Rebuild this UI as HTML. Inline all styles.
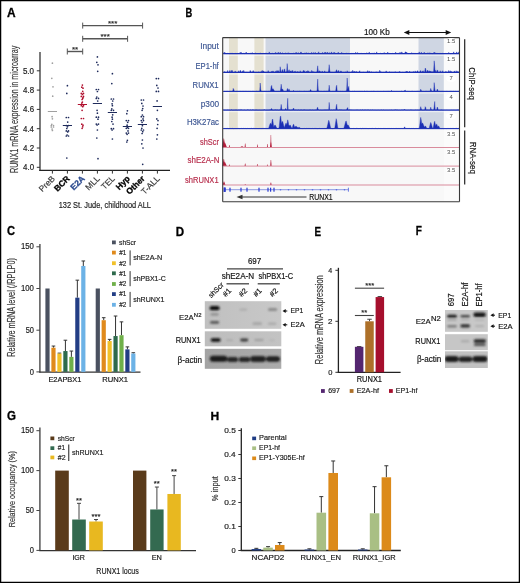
<!DOCTYPE html>
<html><head><meta charset="utf-8"><title>Figure</title>
<style>
html,body{margin:0;padding:0;background:#fff;}
#fig{position:relative;width:520px;height:583px;overflow:hidden;background:#fff;}
#fig svg{position:absolute;left:0;top:0;will-change:transform;}
text{font-family:"Liberation Sans", sans-serif;}
</style></head>
<body><div id="fig">
<svg width="520" height="583" viewBox="0 0 520 583">
<defs><filter id="blur1" x="-30%" y="-80%" width="160%" height="260%"><feGaussianBlur stdDeviation="0.9"/></filter></defs>
<rect x="0" y="0" width="520" height="583" fill="#fff"/>
<text x="6.95" y="16.83" font-size="12.45" fill="#000" text-anchor="start" stroke="#000" stroke-width="0.3" font-weight="bold" textLength="8.62" lengthAdjust="spacingAndGlyphs" >A</text>
<line x1="40.00" y1="52.00" x2="40.00" y2="170.90" stroke="#444" stroke-width="1.4"/>
<line x1="39.30" y1="170.30" x2="170.00" y2="170.30" stroke="#222" stroke-width="1.3"/>
<line x1="36.80" y1="167.30" x2="40.00" y2="167.30" stroke="#333" stroke-width="1"/>
<text x="23.07" y="170.24" font-size="8.56" fill="#1c1c1c" text-anchor="start" stroke="#1c1c1c" stroke-width="0.18" textLength="10.98" lengthAdjust="spacingAndGlyphs" >4.0</text>
<line x1="36.80" y1="148.00" x2="40.00" y2="148.00" stroke="#333" stroke-width="1"/>
<text x="23.07" y="150.99" font-size="8.56" fill="#1c1c1c" text-anchor="start" stroke="#1c1c1c" stroke-width="0.18" textLength="11.08" lengthAdjust="spacingAndGlyphs" >4.2</text>
<line x1="36.80" y1="128.70" x2="40.00" y2="128.70" stroke="#333" stroke-width="1"/>
<text x="23.07" y="131.64" font-size="8.56" fill="#1c1c1c" text-anchor="start" stroke="#1c1c1c" stroke-width="0.18" textLength="10.89" lengthAdjust="spacingAndGlyphs" >4.4</text>
<line x1="36.80" y1="109.40" x2="40.00" y2="109.40" stroke="#333" stroke-width="1"/>
<text x="23.07" y="112.34" font-size="8.56" fill="#1c1c1c" text-anchor="start" stroke="#1c1c1c" stroke-width="0.18" textLength="11.02" lengthAdjust="spacingAndGlyphs" >4.6</text>
<line x1="36.80" y1="90.10" x2="40.00" y2="90.10" stroke="#333" stroke-width="1"/>
<text x="23.07" y="93.04" font-size="8.56" fill="#1c1c1c" text-anchor="start" stroke="#1c1c1c" stroke-width="0.18" textLength="11.02" lengthAdjust="spacingAndGlyphs" >4.8</text>
<line x1="36.80" y1="70.80" x2="40.00" y2="70.80" stroke="#333" stroke-width="1"/>
<text x="22.93" y="73.74" font-size="8.56" fill="#1c1c1c" text-anchor="start" stroke="#1c1c1c" stroke-width="0.18" textLength="11.12" lengthAdjust="spacingAndGlyphs" >5.0</text>
<line x1="52.40" y1="170.30" x2="52.40" y2="173.60" stroke="#333" stroke-width="1"/>
<text x="55.40" y="179.20" font-size="8.40" fill="#3a3a3a" text-anchor="end" stroke="#3a3a3a" stroke-width="0.18" transform="rotate(-45 55.40 179.20)" >PreB</text>
<line x1="67.40" y1="170.30" x2="67.40" y2="173.60" stroke="#333" stroke-width="1"/>
<text x="70.40" y="179.20" font-size="8.40" fill="#000" text-anchor="end" stroke="#000" stroke-width="0.3" font-weight="bold" transform="rotate(-45 70.40 179.20)" >BCR</text>
<line x1="82.40" y1="170.30" x2="82.40" y2="173.60" stroke="#333" stroke-width="1"/>
<text x="85.40" y="179.20" font-size="8.40" fill="#2b4a8f" text-anchor="end" stroke="#2b4a8f" stroke-width="0.3" font-weight="bold" transform="rotate(-45 85.40 179.20)" >E2A</text>
<line x1="97.40" y1="170.30" x2="97.40" y2="173.60" stroke="#333" stroke-width="1"/>
<text x="100.40" y="179.20" font-size="8.40" fill="#3a3a3a" text-anchor="end" stroke="#3a3a3a" stroke-width="0.18" transform="rotate(-45 100.40 179.20)" >MLL</text>
<line x1="112.40" y1="170.30" x2="112.40" y2="173.60" stroke="#333" stroke-width="1"/>
<text x="115.40" y="179.20" font-size="8.40" fill="#3a3a3a" text-anchor="end" stroke="#3a3a3a" stroke-width="0.18" transform="rotate(-45 115.40 179.20)" >TEL</text>
<line x1="127.40" y1="170.30" x2="127.40" y2="173.60" stroke="#333" stroke-width="1"/>
<text x="130.40" y="179.20" font-size="8.40" fill="#000" text-anchor="end" stroke="#000" stroke-width="0.3" font-weight="bold" transform="rotate(-45 130.40 179.20)" >Hyp</text>
<line x1="142.40" y1="170.30" x2="142.40" y2="173.60" stroke="#333" stroke-width="1"/>
<text x="145.40" y="179.20" font-size="8.40" fill="#000" text-anchor="end" stroke="#000" stroke-width="0.3" font-weight="bold" transform="rotate(-45 145.40 179.20)" >Other</text>
<line x1="157.40" y1="170.30" x2="157.40" y2="173.60" stroke="#333" stroke-width="1"/>
<text x="160.40" y="179.20" font-size="8.40" fill="#3a3a3a" text-anchor="end" stroke="#3a3a3a" stroke-width="0.18" transform="rotate(-45 160.40 179.20)" >T-ALL</text>
<text x="18.12" y="173.04" font-size="10.91" fill="#383838" text-anchor="start" stroke="#383838" stroke-width="0.18" textLength="127.31" lengthAdjust="spacingAndGlyphs" transform="rotate(-90 18.12 173.04)" >RUNX1 mRNA expression in microarray</text>
<text x="58.69" y="208.33" font-size="9.63" fill="#1c1c1c" text-anchor="start" stroke="#1c1c1c" stroke-width="0.18" textLength="92.31" lengthAdjust="spacingAndGlyphs" >132 St. Jude, childhood ALL</text>
<line x1="82.70" y1="25.60" x2="142.60" y2="25.60" stroke="#555" stroke-width="1.4"/>
<line x1="82.70" y1="22.60" x2="82.70" y2="28.60" stroke="#555" stroke-width="1"/>
<line x1="142.60" y1="22.60" x2="142.60" y2="28.60" stroke="#555" stroke-width="1"/>
<text x="112.65" y="26.00" font-size="8.00" fill="#2a2a2a" text-anchor="middle" stroke="#2a2a2a" stroke-width="0.18" >***</text>
<line x1="82.70" y1="38.80" x2="127.60" y2="38.80" stroke="#555" stroke-width="1.4"/>
<line x1="82.70" y1="35.80" x2="82.70" y2="41.80" stroke="#555" stroke-width="1"/>
<line x1="127.60" y1="35.80" x2="127.60" y2="41.80" stroke="#555" stroke-width="1"/>
<text x="105.15" y="39.00" font-size="8.00" fill="#2a2a2a" text-anchor="middle" stroke="#2a2a2a" stroke-width="0.18" >***</text>
<line x1="67.30" y1="51.50" x2="82.70" y2="51.50" stroke="#555" stroke-width="1.4"/>
<line x1="67.30" y1="48.50" x2="67.30" y2="54.50" stroke="#555" stroke-width="1"/>
<line x1="82.70" y1="48.50" x2="82.70" y2="54.50" stroke="#555" stroke-width="1"/>
<text x="75.00" y="51.80" font-size="8.00" fill="#2a2a2a" text-anchor="middle" stroke="#2a2a2a" stroke-width="0.18" >**</text>
<circle cx="52.40" cy="63.20" r="0.85" fill="#a0a0a0"/>
<circle cx="51.80" cy="78.30" r="0.85" fill="#a0a0a0"/>
<circle cx="53.00" cy="86.80" r="0.85" fill="#a0a0a0"/>
<circle cx="52.70" cy="96.20" r="0.85" fill="#a0a0a0"/>
<circle cx="52.10" cy="116.70" r="0.85" fill="#a0a0a0"/>
<circle cx="52.40" cy="118.80" r="0.85" fill="#a0a0a0"/>
<circle cx="51.80" cy="124.30" r="0.85" fill="#a0a0a0"/>
<circle cx="51.30" cy="125.60" r="0.85" fill="#a0a0a0"/>
<circle cx="53.50" cy="125.60" r="0.85" fill="#a0a0a0"/>
<circle cx="51.30" cy="127.00" r="0.85" fill="#a0a0a0"/>
<circle cx="53.50" cy="127.00" r="0.85" fill="#a0a0a0"/>
<circle cx="52.10" cy="129.00" r="0.85" fill="#a0a0a0"/>
<circle cx="52.40" cy="130.40" r="0.85" fill="#a0a0a0"/>
<line x1="47.80" y1="111.50" x2="57.00" y2="111.50" stroke="#a0a0a0" stroke-width="1.0"/>
<circle cx="67.40" cy="85.70" r="0.85" fill="#1f2b5c"/>
<circle cx="66.80" cy="93.40" r="0.85" fill="#1f2b5c"/>
<circle cx="66.30" cy="117.50" r="0.85" fill="#1f2b5c"/>
<circle cx="68.50" cy="117.50" r="0.85" fill="#1f2b5c"/>
<circle cx="67.70" cy="122.10" r="0.85" fill="#1f2b5c"/>
<circle cx="66.30" cy="125.50" r="0.85" fill="#1f2b5c"/>
<circle cx="68.50" cy="125.50" r="0.85" fill="#1f2b5c"/>
<circle cx="67.40" cy="126.80" r="0.85" fill="#1f2b5c"/>
<circle cx="66.80" cy="128.50" r="0.85" fill="#1f2b5c"/>
<circle cx="66.30" cy="130.90" r="0.85" fill="#1f2b5c"/>
<circle cx="68.50" cy="130.90" r="0.85" fill="#1f2b5c"/>
<circle cx="67.70" cy="131.90" r="0.85" fill="#1f2b5c"/>
<circle cx="67.10" cy="135.00" r="0.85" fill="#1f2b5c"/>
<circle cx="66.30" cy="136.00" r="0.85" fill="#1f2b5c"/>
<circle cx="68.50" cy="136.00" r="0.85" fill="#1f2b5c"/>
<circle cx="66.80" cy="158.00" r="0.85" fill="#1f2b5c"/>
<line x1="62.80" y1="125.50" x2="72.00" y2="125.50" stroke="#1f2b5c" stroke-width="1.0"/>
<circle cx="82.40" cy="85.10" r="0.85" fill="#b0102e"/>
<circle cx="81.80" cy="87.20" r="0.85" fill="#b0102e"/>
<circle cx="83.00" cy="88.20" r="0.85" fill="#b0102e"/>
<circle cx="82.70" cy="91.30" r="0.85" fill="#b0102e"/>
<circle cx="81.30" cy="93.40" r="0.85" fill="#b0102e"/>
<circle cx="83.50" cy="93.40" r="0.85" fill="#b0102e"/>
<circle cx="82.40" cy="94.40" r="0.85" fill="#b0102e"/>
<circle cx="81.30" cy="96.40" r="0.85" fill="#b0102e"/>
<circle cx="83.50" cy="96.40" r="0.85" fill="#b0102e"/>
<circle cx="83.00" cy="97.50" r="0.85" fill="#b0102e"/>
<circle cx="82.70" cy="98.50" r="0.85" fill="#b0102e"/>
<circle cx="82.10" cy="99.50" r="0.85" fill="#b0102e"/>
<circle cx="82.40" cy="102.10" r="0.85" fill="#b0102e"/>
<circle cx="81.80" cy="103.10" r="0.85" fill="#b0102e"/>
<circle cx="81.30" cy="105.70" r="0.85" fill="#b0102e"/>
<circle cx="83.50" cy="105.70" r="0.85" fill="#b0102e"/>
<circle cx="82.70" cy="106.70" r="0.85" fill="#b0102e"/>
<circle cx="82.10" cy="110.30" r="0.85" fill="#b0102e"/>
<circle cx="81.30" cy="118.50" r="0.85" fill="#b0102e"/>
<circle cx="83.50" cy="118.50" r="0.85" fill="#b0102e"/>
<circle cx="81.80" cy="124.20" r="0.85" fill="#b0102e"/>
<circle cx="83.00" cy="125.20" r="0.85" fill="#b0102e"/>
<circle cx="82.70" cy="126.80" r="0.85" fill="#b0102e"/>
<circle cx="82.10" cy="128.30" r="0.85" fill="#b0102e"/>
<line x1="77.80" y1="104.50" x2="87.00" y2="104.50" stroke="#b0102e" stroke-width="1.0"/>
<circle cx="97.40" cy="56.90" r="0.85" fill="#1f2b5c"/>
<circle cx="96.80" cy="62.30" r="0.85" fill="#1f2b5c"/>
<circle cx="98.00" cy="64.80" r="0.85" fill="#1f2b5c"/>
<circle cx="97.70" cy="71.30" r="0.85" fill="#1f2b5c"/>
<circle cx="96.30" cy="89.50" r="0.85" fill="#1f2b5c"/>
<circle cx="98.50" cy="89.50" r="0.85" fill="#1f2b5c"/>
<circle cx="97.40" cy="91.50" r="0.85" fill="#1f2b5c"/>
<circle cx="96.80" cy="97.00" r="0.85" fill="#1f2b5c"/>
<circle cx="96.30" cy="98.40" r="0.85" fill="#1f2b5c"/>
<circle cx="98.50" cy="98.40" r="0.85" fill="#1f2b5c"/>
<circle cx="97.70" cy="101.00" r="0.85" fill="#1f2b5c"/>
<circle cx="97.10" cy="110.30" r="0.85" fill="#1f2b5c"/>
<circle cx="97.40" cy="113.20" r="0.85" fill="#1f2b5c"/>
<circle cx="96.30" cy="117.20" r="0.85" fill="#1f2b5c"/>
<circle cx="98.50" cy="117.20" r="0.85" fill="#1f2b5c"/>
<circle cx="98.00" cy="119.20" r="0.85" fill="#1f2b5c"/>
<circle cx="96.30" cy="124.10" r="0.85" fill="#1f2b5c"/>
<circle cx="98.50" cy="124.10" r="0.85" fill="#1f2b5c"/>
<circle cx="97.10" cy="125.00" r="0.85" fill="#1f2b5c"/>
<circle cx="97.40" cy="130.00" r="0.85" fill="#1f2b5c"/>
<circle cx="96.80" cy="138.00" r="0.85" fill="#1f2b5c"/>
<circle cx="98.00" cy="158.70" r="0.85" fill="#1f2b5c"/>
<line x1="92.80" y1="103.50" x2="102.00" y2="103.50" stroke="#1f2b5c" stroke-width="1.0"/>
<circle cx="112.40" cy="73.70" r="0.85" fill="#1f2b5c"/>
<circle cx="111.80" cy="83.60" r="0.85" fill="#1f2b5c"/>
<circle cx="111.30" cy="99.00" r="0.85" fill="#1f2b5c"/>
<circle cx="113.50" cy="99.00" r="0.85" fill="#1f2b5c"/>
<circle cx="112.70" cy="101.00" r="0.85" fill="#1f2b5c"/>
<circle cx="112.10" cy="103.80" r="0.85" fill="#1f2b5c"/>
<circle cx="112.40" cy="105.70" r="0.85" fill="#1f2b5c"/>
<circle cx="111.80" cy="108.90" r="0.85" fill="#1f2b5c"/>
<circle cx="111.30" cy="110.30" r="0.85" fill="#1f2b5c"/>
<circle cx="113.50" cy="110.30" r="0.85" fill="#1f2b5c"/>
<circle cx="112.70" cy="114.80" r="0.85" fill="#1f2b5c"/>
<circle cx="112.10" cy="117.20" r="0.85" fill="#1f2b5c"/>
<circle cx="112.40" cy="119.20" r="0.85" fill="#1f2b5c"/>
<circle cx="111.80" cy="121.50" r="0.85" fill="#1f2b5c"/>
<circle cx="113.00" cy="124.10" r="0.85" fill="#1f2b5c"/>
<circle cx="111.30" cy="128.70" r="0.85" fill="#1f2b5c"/>
<circle cx="113.50" cy="128.70" r="0.85" fill="#1f2b5c"/>
<circle cx="112.10" cy="130.00" r="0.85" fill="#1f2b5c"/>
<circle cx="112.40" cy="139.00" r="0.85" fill="#1f2b5c"/>
<line x1="107.80" y1="112.50" x2="117.00" y2="112.50" stroke="#1f2b5c" stroke-width="1.0"/>
<circle cx="127.40" cy="110.80" r="0.85" fill="#1f2b5c"/>
<circle cx="126.80" cy="113.70" r="0.85" fill="#1f2b5c"/>
<circle cx="126.30" cy="120.60" r="0.85" fill="#1f2b5c"/>
<circle cx="128.50" cy="120.60" r="0.85" fill="#1f2b5c"/>
<circle cx="127.70" cy="122.30" r="0.85" fill="#1f2b5c"/>
<circle cx="127.10" cy="125.20" r="0.85" fill="#1f2b5c"/>
<circle cx="127.40" cy="127.40" r="0.85" fill="#1f2b5c"/>
<circle cx="126.30" cy="128.30" r="0.85" fill="#1f2b5c"/>
<circle cx="128.50" cy="128.30" r="0.85" fill="#1f2b5c"/>
<circle cx="128.00" cy="130.90" r="0.85" fill="#1f2b5c"/>
<circle cx="126.30" cy="133.10" r="0.85" fill="#1f2b5c"/>
<circle cx="128.50" cy="133.10" r="0.85" fill="#1f2b5c"/>
<circle cx="127.10" cy="134.30" r="0.85" fill="#1f2b5c"/>
<circle cx="127.40" cy="140.30" r="0.85" fill="#1f2b5c"/>
<circle cx="126.80" cy="142.00" r="0.85" fill="#1f2b5c"/>
<line x1="122.80" y1="126.50" x2="132.00" y2="126.50" stroke="#1f2b5c" stroke-width="1.0"/>
<circle cx="141.30" cy="100.00" r="0.85" fill="#1f2b5c"/>
<circle cx="143.50" cy="100.00" r="0.85" fill="#1f2b5c"/>
<circle cx="141.80" cy="103.40" r="0.85" fill="#1f2b5c"/>
<circle cx="143.00" cy="106.00" r="0.85" fill="#1f2b5c"/>
<circle cx="142.70" cy="108.60" r="0.85" fill="#1f2b5c"/>
<circle cx="142.10" cy="110.30" r="0.85" fill="#1f2b5c"/>
<circle cx="142.40" cy="115.00" r="0.85" fill="#1f2b5c"/>
<circle cx="141.30" cy="116.70" r="0.85" fill="#1f2b5c"/>
<circle cx="143.50" cy="116.70" r="0.85" fill="#1f2b5c"/>
<circle cx="143.00" cy="118.90" r="0.85" fill="#1f2b5c"/>
<circle cx="141.30" cy="120.60" r="0.85" fill="#1f2b5c"/>
<circle cx="143.50" cy="120.60" r="0.85" fill="#1f2b5c"/>
<circle cx="142.10" cy="122.30" r="0.85" fill="#1f2b5c"/>
<circle cx="142.40" cy="125.70" r="0.85" fill="#1f2b5c"/>
<circle cx="141.80" cy="128.30" r="0.85" fill="#1f2b5c"/>
<circle cx="141.30" cy="130.00" r="0.85" fill="#1f2b5c"/>
<circle cx="143.50" cy="130.00" r="0.85" fill="#1f2b5c"/>
<circle cx="142.70" cy="131.70" r="0.85" fill="#1f2b5c"/>
<circle cx="142.10" cy="133.50" r="0.85" fill="#1f2b5c"/>
<circle cx="142.40" cy="140.00" r="0.85" fill="#1f2b5c"/>
<circle cx="141.80" cy="143.80" r="0.85" fill="#1f2b5c"/>
<circle cx="143.00" cy="148.00" r="0.85" fill="#1f2b5c"/>
<circle cx="142.70" cy="164.30" r="0.85" fill="#1f2b5c"/>
<line x1="137.80" y1="124.50" x2="147.00" y2="124.50" stroke="#1f2b5c" stroke-width="1.0"/>
<circle cx="156.30" cy="78.60" r="0.85" fill="#1f2b5c"/>
<circle cx="158.50" cy="78.60" r="0.85" fill="#1f2b5c"/>
<circle cx="156.80" cy="85.40" r="0.85" fill="#1f2b5c"/>
<circle cx="158.00" cy="88.00" r="0.85" fill="#1f2b5c"/>
<circle cx="156.30" cy="91.40" r="0.85" fill="#1f2b5c"/>
<circle cx="158.50" cy="91.40" r="0.85" fill="#1f2b5c"/>
<circle cx="157.10" cy="100.90" r="0.85" fill="#1f2b5c"/>
<circle cx="157.40" cy="110.30" r="0.85" fill="#1f2b5c"/>
<circle cx="156.80" cy="118.90" r="0.85" fill="#1f2b5c"/>
<circle cx="158.00" cy="120.60" r="0.85" fill="#1f2b5c"/>
<circle cx="157.70" cy="124.50" r="0.85" fill="#1f2b5c"/>
<circle cx="157.10" cy="128.30" r="0.85" fill="#1f2b5c"/>
<circle cx="157.40" cy="134.80" r="0.85" fill="#1f2b5c"/>
<circle cx="156.80" cy="139.00" r="0.85" fill="#1f2b5c"/>
<line x1="152.80" y1="106.50" x2="162.00" y2="106.50" stroke="#1f2b5c" stroke-width="1.0"/>
<text x="185.52" y="16.62" font-size="12.14" fill="#000" text-anchor="start" stroke="#000" stroke-width="0.3" font-weight="bold" textLength="6.75" lengthAdjust="spacingAndGlyphs" >B</text>
<rect x="222.70" y="37.60" width="236.80" height="164.10" fill="#f8f8f8" />
<rect x="229.00" y="37.60" width="8.80" height="91.60" fill="#e4e0d0" />
<rect x="254.40" y="37.60" width="9.20" height="91.60" fill="#e4e0d0" />
<rect x="265.50" y="37.60" width="84.50" height="91.60" fill="#cfd6e3" />
<rect x="418.50" y="37.60" width="25.40" height="91.60" fill="#cfd6e3" />
<rect x="443.90" y="37.60" width="15.60" height="164.10" fill="#fbfbfb" />
<line x1="222.70" y1="55.20" x2="443.90" y2="55.20" stroke="#ffffff" stroke-width="0.7"/>
<line x1="222.70" y1="74.00" x2="443.90" y2="74.00" stroke="#ffffff" stroke-width="0.7"/>
<line x1="222.70" y1="93.00" x2="443.90" y2="93.00" stroke="#ffffff" stroke-width="0.7"/>
<line x1="222.70" y1="111.70" x2="443.90" y2="111.70" stroke="#ffffff" stroke-width="0.7"/>
<path d="M223.20,53.60 L223.20,52.62 L223.70,53.45 L224.20,53.58 L224.70,52.09 L225.20,53.18 L225.70,53.48 L226.20,53.48 L226.70,53.56 L227.20,53.38 L227.70,53.41 L228.20,53.58 L228.70,53.45 L229.20,53.59 L229.70,53.48 L230.20,53.38 L230.70,53.37 L231.20,53.40 L231.70,53.37 L232.20,53.58 L232.70,53.21 L233.20,53.49 L233.70,53.52 L234.20,53.50 L234.70,53.45 L235.20,53.37 L235.70,53.37 L236.20,53.35 L236.70,53.56 L237.20,53.36 L237.70,53.46 L238.20,53.55 L238.70,53.46 L239.20,53.49 L239.70,53.35 L240.20,52.16 L240.70,53.56 L241.20,52.22 L241.70,53.59 L242.20,53.59 L242.70,53.52 L243.20,53.35 L243.70,53.35 L244.20,53.58 L244.70,53.59 L245.20,52.87 L245.70,53.56 L246.20,52.04 L246.70,53.36 L247.20,53.51 L247.70,53.47 L248.20,53.45 L248.70,53.44 L249.20,53.47 L249.70,53.42 L250.20,53.06 L250.70,53.47 L251.20,53.60 L251.70,53.46 L252.20,52.49 L252.70,53.58 L253.20,53.48 L253.70,53.51 L254.20,53.42 L254.70,53.49 L255.20,53.36 L255.70,52.78 L256.20,53.52 L256.70,53.52 L257.20,53.45 L257.70,53.51 L258.20,53.59 L258.70,53.42 L259.20,53.54 L259.70,53.54 L260.20,52.82 L260.70,53.57 L261.20,53.52 L261.70,53.49 L262.20,53.56 L262.70,53.44 L263.20,53.49 L263.70,53.38 L264.20,53.55 L264.70,53.39 L265.20,53.10 L265.70,53.44 L266.20,53.51 L266.70,53.07 L267.20,53.53 L267.70,53.50 L268.20,53.50 L268.70,53.56 L269.20,51.90 L269.70,53.35 L270.20,53.36 L270.70,53.54 L271.20,53.39 L271.70,53.47 L272.20,52.99 L272.70,53.48 L273.20,53.53 L273.70,53.59 L274.20,53.43 L274.70,53.38 L275.20,53.46 L275.70,52.26 L276.20,53.06 L276.70,53.47 L277.20,53.37 L277.70,53.51 L278.20,52.05 L278.70,53.40 L279.20,53.55 L279.70,53.40 L280.20,52.17 L280.70,53.40 L281.20,53.60 L281.70,53.38 L282.20,53.11 L282.70,52.65 L283.20,53.48 L283.70,53.60 L284.20,53.37 L284.70,53.48 L285.20,53.39 L285.70,52.70 L286.20,53.52 L286.70,53.44 L287.20,53.51 L287.70,53.01 L288.20,52.60 L288.70,53.50 L289.20,53.28 L289.70,53.45 L290.20,53.50 L290.70,53.44 L291.20,53.51 L291.70,53.42 L292.20,53.43 L292.70,53.54 L293.20,53.43 L293.70,52.84 L294.20,53.38 L294.70,53.51 L295.20,53.40 L295.70,52.76 L296.20,52.14 L296.70,53.38 L297.20,53.43 L297.70,53.46 L298.20,52.54 L298.70,53.34 L299.20,53.59 L299.70,53.42 L300.20,53.56 L300.70,52.09 L301.20,52.08 L301.70,53.39 L302.20,53.46 L302.70,53.59 L303.20,53.47 L303.70,53.57 L304.20,53.37 L304.70,53.02 L305.20,53.39 L305.70,53.28 L306.20,52.49 L306.70,53.50 L307.20,53.50 L307.70,53.50 L308.20,52.70 L308.70,53.50 L309.20,53.56 L309.70,53.41 L310.20,53.47 L310.70,53.44 L311.20,53.56 L311.70,52.25 L312.20,53.47 L312.70,53.42 L313.20,53.12 L313.70,52.55 L314.20,53.54 L314.70,53.36 L315.20,52.33 L315.70,53.39 L316.20,53.53 L316.70,53.56 L317.20,53.50 L317.70,52.95 L318.20,53.41 L318.70,51.82 L319.20,53.45 L319.70,53.39 L320.20,53.46 L320.70,53.42 L321.20,53.50 L321.70,53.36 L322.20,53.54 L322.70,52.31 L323.20,53.36 L323.70,53.54 L324.20,53.13 L324.70,52.33 L325.20,53.38 L325.70,52.04 L326.20,53.49 L326.70,53.58 L327.20,52.10 L327.70,52.96 L328.20,53.43 L328.70,53.00 L329.20,53.48 L329.70,52.55 L330.20,53.50 L330.70,53.57 L331.20,52.40 L331.70,52.00 L332.20,53.58 L332.70,53.51 L333.20,53.41 L333.70,52.38 L334.20,53.40 L334.70,52.24 L335.20,53.43 L335.70,53.57 L336.20,53.51 L336.70,53.43 L337.20,53.55 L337.70,53.44 L338.20,52.00 L338.70,53.57 L339.20,53.56 L339.70,53.42 L340.20,53.46 L340.70,53.49 L341.20,53.56 L341.70,52.31 L342.20,53.46 L342.70,53.51 L343.20,52.91 L343.70,53.59 L344.20,53.54 L344.70,53.51 L345.20,53.50 L345.70,53.41 L346.20,53.39 L346.70,53.11 L347.20,53.40 L347.70,53.42 L348.20,53.26 L348.70,53.41 L349.20,53.41 L349.70,53.56 L350.20,53.55 L350.70,53.46 L351.20,53.15 L351.70,53.59 L352.20,53.38 L352.70,53.50 L353.20,53.45 L353.70,53.36 L354.20,53.53 L354.70,53.48 L355.20,53.42 L355.70,52.21 L356.20,53.48 L356.70,53.48 L357.20,52.65 L357.70,52.70 L358.20,53.49 L358.70,53.36 L359.20,53.57 L359.70,53.44 L360.20,52.95 L360.70,53.46 L361.20,53.37 L361.70,53.38 L362.20,53.57 L362.70,53.45 L363.20,53.42 L363.70,53.51 L364.20,53.37 L364.70,53.49 L365.20,53.48 L365.70,53.52 L366.20,53.24 L366.70,52.71 L367.20,53.47 L367.70,53.44 L368.20,53.48 L368.70,53.50 L369.20,51.98 L369.70,53.51 L370.20,53.47 L370.70,53.54 L371.20,53.22 L371.70,53.56 L372.20,53.55 L372.70,53.29 L373.20,53.56 L373.70,53.40 L374.20,52.72 L374.70,53.56 L375.20,53.50 L375.70,53.59 L376.20,53.50 L376.70,51.86 L377.20,53.43 L377.70,53.56 L378.20,53.51 L378.70,53.51 L379.20,53.53 L379.70,53.48 L380.20,53.52 L380.70,53.12 L381.20,53.44 L381.70,53.58 L382.20,53.36 L382.70,53.60 L383.20,53.44 L383.70,53.53 L384.20,52.42 L384.70,53.55 L385.20,53.48 L385.70,53.37 L386.20,53.59 L386.70,53.45 L387.20,53.58 L387.70,52.07 L388.20,52.90 L388.70,53.43 L389.20,53.56 L389.70,53.42 L390.20,53.46 L390.70,53.51 L391.20,53.54 L391.70,53.48 L392.20,53.29 L392.70,53.45 L393.20,53.50 L393.70,53.56 L394.20,53.59 L394.70,53.41 L395.20,53.58 L395.70,52.08 L396.20,53.38 L396.70,53.49 L397.20,53.42 L397.70,53.51 L398.20,52.88 L398.70,53.57 L399.20,53.57 L399.70,52.43 L400.20,53.51 L400.70,52.44 L401.20,53.60 L401.70,51.86 L402.20,52.59 L402.70,53.40 L403.20,53.40 L403.70,53.55 L404.20,53.46 L404.70,53.57 L405.20,51.86 L405.70,51.99 L406.20,52.76 L406.70,52.11 L407.20,53.44 L407.70,53.38 L408.20,53.45 L408.70,53.57 L409.20,53.45 L409.70,53.55 L410.20,53.48 L410.70,53.58 L411.20,53.48 L411.70,52.61 L412.20,53.49 L412.70,53.45 L413.20,52.97 L413.70,53.52 L414.20,53.58 L414.70,53.30 L415.20,53.42 L415.70,53.35 L416.20,53.37 L416.70,53.50 L417.20,53.37 L417.70,53.48 L418.20,53.50 L418.70,53.37 L419.20,51.92 L419.70,53.43 L420.20,53.53 L420.70,53.44 L421.20,52.26 L421.70,52.82 L422.20,53.41 L422.70,53.53 L423.20,53.06 L423.70,53.58 L424.20,52.23 L424.70,53.36 L425.20,53.38 L425.70,53.56 L426.20,53.48 L426.70,53.46 L427.20,53.39 L427.70,52.77 L428.20,53.40 L428.70,53.16 L429.20,53.60 L429.70,52.64 L430.20,53.56 L430.70,53.23 L431.20,53.48 L431.70,53.40 L432.20,53.59 L432.70,53.58 L433.20,53.52 L433.70,52.62 L434.20,53.04 L434.70,52.16 L435.20,53.53 L435.70,52.83 L436.20,53.43 L436.70,53.40 L437.20,53.36 L437.70,53.40 L438.20,53.39 L438.70,53.53 L439.20,53.57 L439.70,53.38 L440.20,53.48 L440.70,53.37 L441.20,53.45 L441.70,53.47 L442.20,53.27 L442.70,53.35 L443.20,53.50 L443.70,53.49 L444.20,53.49 L444.70,53.56 L445.20,53.47 L445.70,53.39 L446.20,53.37 L446.70,53.59 L447.20,53.46 L447.70,53.53 L448.20,53.37 L448.70,52.40 L449.20,53.47 L449.70,53.36 L450.20,53.55 L450.70,53.55 L451.20,53.39 L451.70,53.53 L452.20,53.36 L452.70,53.50 L453.20,53.36 L453.70,51.84 L454.20,53.19 L454.70,53.46 L455.20,53.41 L455.70,53.44 L456.20,53.60 L456.70,51.87 L457.20,53.12 L457.70,53.53 L458.20,53.59 L458.70,51.88 L459.00,53.60 Z" fill="#1b2fb5" stroke="#1b2fb5" stroke-width="0.4"/>
<line x1="223.20" y1="53.60" x2="459.00" y2="53.60" stroke="#1b2fb5" stroke-width="1.3"/>
<path d="M223.20,72.40 L223.20,72.21 L223.70,72.16 L224.20,72.17 L224.70,71.38 L225.20,72.24 L225.70,72.37 L226.20,72.34 L226.70,72.26 L227.20,71.92 L227.70,70.38 L228.20,72.36 L228.70,72.37 L229.20,72.37 L229.70,70.48 L230.20,71.93 L230.70,72.18 L231.20,70.28 L231.70,72.23 L232.20,70.33 L232.70,72.16 L233.20,72.33 L233.70,72.36 L234.20,72.26 L234.70,72.25 L235.20,70.91 L235.70,72.32 L236.20,72.28 L236.70,72.28 L237.20,72.39 L237.70,72.39 L238.20,72.19 L238.70,70.67 L239.20,72.26 L239.70,72.30 L240.20,70.30 L240.70,70.74 L241.20,72.16 L241.70,72.31 L242.20,72.21 L242.70,70.75 L243.20,72.19 L243.70,70.32 L244.20,71.65 L244.70,72.17 L245.20,72.17 L245.70,72.32 L246.20,72.36 L246.70,72.07 L247.20,72.15 L247.70,72.29 L248.20,72.27 L248.70,72.34 L249.20,72.19 L249.70,72.29 L250.20,70.38 L250.70,71.31 L251.20,72.37 L251.70,72.16 L252.20,72.20 L252.70,71.44 L253.20,70.54 L253.70,71.40 L254.20,72.19 L254.70,72.29 L255.20,72.22 L255.70,72.33 L256.20,72.36 L256.70,72.15 L257.20,72.24 L257.70,72.32 L258.20,71.80 L258.70,72.18 L259.20,72.20 L259.70,72.23 L260.20,72.21 L260.70,72.22 L261.20,71.33 L261.70,72.23 L262.20,70.32 L262.70,72.25 L263.20,71.20 L263.70,70.92 L264.20,72.20 L264.70,72.20 L265.20,72.24 L265.70,72.19 L266.20,72.19 L266.70,72.23 L267.20,72.16 L267.70,72.27 L268.20,70.56 L268.70,72.28 L269.20,72.22 L269.70,72.36 L270.20,72.25 L270.70,72.29 L271.20,72.21 L271.70,71.28 L272.20,71.05 L272.70,72.17 L273.20,70.89 L273.70,72.39 L274.20,72.34 L274.70,72.11 L275.20,72.35 L275.70,71.15 L276.20,70.73 L276.70,72.25 L277.20,70.41 L277.70,71.51 L278.20,71.50 L278.70,70.57 L279.20,72.39 L279.70,72.38 L280.20,66.73 L280.70,70.13 L281.20,72.30 L281.70,72.24 L282.20,70.11 L282.70,69.54 L283.20,72.16 L283.70,72.31 L284.20,69.54 L284.70,68.83 L285.20,72.36 L285.70,72.18 L286.20,72.29 L286.70,70.93 L287.20,63.60 L287.70,70.93 L288.20,72.34 L288.70,70.40 L289.20,69.73 L289.70,72.28 L290.20,71.35 L290.70,71.03 L291.20,70.73 L291.70,72.19 L292.20,71.23 L292.70,70.34 L293.20,72.34 L293.70,72.06 L294.20,72.33 L294.70,71.30 L295.20,70.93 L295.70,72.37 L296.20,72.32 L296.70,72.32 L297.20,71.23 L297.70,72.31 L298.20,72.25 L298.70,71.84 L299.20,72.17 L299.70,72.26 L300.20,70.69 L300.70,72.26 L301.20,72.24 L301.70,72.17 L302.20,72.30 L302.70,72.35 L303.20,70.57 L303.70,70.56 L304.20,72.29 L304.70,70.68 L305.20,72.36 L305.70,72.26 L306.20,72.32 L306.70,71.11 L307.20,72.38 L307.70,70.60 L308.20,72.23 L308.70,70.81 L309.20,72.15 L309.70,72.39 L310.20,72.35 L310.70,72.16 L311.20,72.37 L311.70,70.38 L312.20,71.06 L312.70,72.36 L313.20,72.39 L313.70,71.57 L314.20,72.27 L314.70,72.21 L315.20,72.37 L315.70,72.32 L316.20,72.28 L316.70,72.31 L317.20,70.51 L317.70,65.80 L318.20,70.51 L318.70,72.24 L319.20,71.19 L319.70,70.75 L320.20,72.37 L320.70,71.58 L321.20,72.36 L321.70,72.24 L322.20,70.93 L322.70,72.13 L323.20,72.34 L323.70,72.28 L324.20,72.20 L324.70,70.80 L325.20,72.07 L325.70,72.23 L326.20,72.14 L326.70,72.23 L327.20,72.37 L327.70,72.31 L328.20,71.67 L328.70,70.20 L329.20,64.70 L329.70,70.20 L330.20,72.29 L330.70,72.27 L331.20,72.26 L331.70,72.30 L332.20,72.33 L332.70,72.31 L333.20,72.28 L333.70,72.40 L334.20,72.18 L334.70,72.29 L335.20,72.38 L335.70,72.05 L336.20,70.21 L336.70,69.77 L337.20,71.79 L337.70,71.77 L338.20,71.34 L338.70,70.37 L339.20,72.17 L339.70,72.23 L340.20,72.16 L340.70,70.93 L341.20,70.92 L341.70,72.36 L342.20,72.35 L342.70,72.23 L343.20,72.16 L343.70,72.32 L344.20,72.33 L344.70,72.22 L345.20,71.87 L345.70,72.16 L346.20,72.29 L346.70,72.40 L347.20,70.69 L347.70,72.39 L348.20,72.15 L348.70,72.31 L349.20,72.24 L349.70,72.28 L350.20,72.39 L350.70,72.29 L351.20,72.38 L351.70,71.50 L352.20,72.39 L352.70,70.26 L353.20,71.28 L353.70,72.27 L354.20,71.71 L354.70,71.21 L355.20,72.25 L355.70,72.35 L356.20,71.21 L356.70,72.26 L357.20,72.24 L357.70,72.17 L358.20,72.29 L358.70,72.34 L359.20,71.71 L359.70,70.70 L360.20,72.32 L360.70,72.22 L361.20,72.21 L361.70,72.26 L362.20,72.26 L362.70,72.39 L363.20,71.77 L363.70,72.38 L364.20,72.32 L364.70,72.26 L365.20,72.24 L365.70,72.26 L366.20,72.20 L366.70,72.16 L367.20,72.22 L367.70,70.61 L368.20,72.37 L368.70,72.03 L369.20,70.91 L369.70,72.26 L370.20,72.26 L370.70,72.29 L371.20,71.61 L371.70,72.16 L372.20,72.34 L372.70,72.31 L373.20,72.40 L373.70,72.19 L374.20,72.38 L374.70,72.36 L375.20,72.29 L375.70,72.20 L376.20,71.70 L376.70,72.28 L377.20,72.29 L377.70,72.17 L378.20,72.16 L378.70,72.37 L379.20,72.30 L379.70,70.25 L380.20,71.13 L380.70,72.18 L381.20,72.35 L381.70,71.96 L382.20,72.31 L382.70,72.34 L383.20,72.34 L383.70,72.19 L384.20,72.25 L384.70,72.36 L385.20,72.28 L385.70,72.03 L386.20,70.82 L386.70,72.35 L387.20,72.32 L387.70,72.18 L388.20,72.20 L388.70,72.40 L389.20,72.25 L389.70,71.54 L390.20,72.39 L390.70,72.30 L391.20,72.22 L391.70,72.15 L392.20,72.17 L392.70,72.23 L393.20,72.20 L393.70,72.25 L394.20,72.27 L394.70,72.23 L395.20,71.62 L395.70,72.21 L396.20,72.32 L396.70,72.33 L397.20,72.38 L397.70,72.23 L398.20,72.18 L398.70,72.19 L399.20,72.25 L399.70,71.26 L400.20,72.34 L400.70,72.26 L401.20,72.40 L401.70,72.36 L402.20,72.18 L402.70,72.25 L403.20,72.37 L403.70,72.26 L404.20,72.31 L404.70,72.35 L405.20,72.33 L405.70,72.18 L406.20,71.01 L406.70,72.34 L407.20,71.16 L407.70,72.18 L408.20,72.30 L408.70,72.27 L409.20,72.32 L409.70,71.07 L410.20,72.35 L410.70,72.15 L411.20,72.25 L411.70,71.98 L412.20,72.24 L412.70,72.22 L413.20,71.33 L413.70,72.16 L414.20,72.19 L414.70,72.17 L415.20,70.87 L415.70,72.28 L416.20,71.97 L416.70,72.20 L417.20,71.05 L417.70,70.73 L418.20,72.20 L418.70,72.22 L419.20,72.16 L419.70,72.16 L420.20,71.00 L420.70,70.53 L421.20,72.29 L421.70,72.21 L422.20,71.51 L422.70,71.15 L423.20,70.73 L423.70,72.23 L424.20,72.16 L424.70,71.67 L425.20,68.05 L425.70,68.78 L426.20,72.31 L426.70,72.17 L427.20,70.65 L427.70,70.07 L428.20,72.26 L428.70,71.15 L429.20,70.73 L429.70,71.47 L430.20,70.93 L430.70,71.80 L431.20,71.35 L431.70,72.26 L432.20,72.17 L432.70,71.62 L433.20,72.40 L433.70,70.47 L434.20,60.83 L434.70,66.61 L435.20,72.39 L435.70,70.26 L436.20,72.28 L436.70,71.79 L437.20,69.90 L437.70,70.40 L438.20,72.21 L438.70,72.25 L439.20,72.24 L439.70,72.39 L440.20,70.71 L440.70,72.18 L441.20,72.17 L441.70,72.15 L442.20,72.18 L442.70,70.68 L443.20,72.16 L443.70,72.35 L444.20,72.33 L444.70,72.33 L445.20,72.37 L445.70,71.39 L446.20,71.56 L446.70,72.18 L447.20,72.36 L447.70,72.16 L448.20,72.37 L448.70,70.38 L449.20,72.39 L449.70,71.46 L450.20,70.74 L450.70,72.21 L451.20,71.26 L451.70,72.22 L452.20,72.16 L452.70,72.31 L453.20,72.28 L453.70,72.16 L454.20,71.15 L454.70,71.20 L455.20,72.37 L455.70,72.22 L456.20,70.70 L456.70,72.27 L457.20,72.20 L457.70,71.30 L458.20,71.55 L458.70,72.39 L459.00,72.40 Z" fill="#1b2fb5" stroke="#1b2fb5" stroke-width="0.4"/>
<line x1="223.20" y1="72.40" x2="459.00" y2="72.40" stroke="#1b2fb5" stroke-width="1.3"/>
<path d="M223.20,91.40 L223.20,91.36 L223.70,91.38 L224.20,91.31 L224.70,91.20 L225.20,91.23 L225.70,91.36 L226.20,91.19 L226.70,91.31 L227.20,91.16 L227.70,91.30 L228.20,91.39 L228.70,91.33 L229.20,91.35 L229.70,91.20 L230.20,91.17 L230.70,91.31 L231.20,91.38 L231.70,91.32 L232.20,91.29 L232.70,91.25 L233.20,88.40 L233.70,89.15 L234.20,91.17 L234.70,91.18 L235.20,91.33 L235.70,91.37 L236.20,91.21 L236.70,91.20 L237.20,91.13 L237.70,91.26 L238.20,91.32 L238.70,91.25 L239.20,91.29 L239.70,91.16 L240.20,91.23 L240.70,91.12 L241.20,91.15 L241.70,91.33 L242.20,91.23 L242.70,91.22 L243.20,91.35 L243.70,91.09 L244.20,91.30 L244.70,91.18 L245.20,91.22 L245.70,91.18 L246.20,91.18 L246.70,91.23 L247.20,91.18 L247.70,91.36 L248.20,91.31 L248.70,91.21 L249.20,91.33 L249.70,91.23 L250.20,91.26 L250.70,91.23 L251.20,91.25 L251.70,91.39 L252.20,91.21 L252.70,91.20 L253.20,91.30 L253.70,91.15 L254.20,91.37 L254.70,91.34 L255.20,91.39 L255.70,91.34 L256.20,91.25 L256.70,91.05 L257.20,91.36 L257.70,91.26 L258.20,91.37 L258.70,91.15 L259.20,91.28 L259.70,91.36 L260.20,83.00 L260.70,89.30 L261.20,91.02 L261.70,91.36 L262.20,91.39 L262.70,91.16 L263.20,91.23 L263.70,91.25 L264.20,91.09 L264.70,91.21 L265.20,91.34 L265.70,91.15 L266.20,91.20 L266.70,91.22 L267.20,91.19 L267.70,91.39 L268.20,91.29 L268.70,91.12 L269.20,91.29 L269.70,91.15 L270.20,91.31 L270.70,89.90 L271.20,86.15 L271.70,85.40 L272.20,89.15 L272.70,89.00 L273.20,88.80 L273.70,89.80 L274.20,90.80 L274.70,91.08 L275.20,91.20 L275.70,91.30 L276.20,91.16 L276.70,91.36 L277.20,91.34 L277.70,91.20 L278.20,91.07 L278.70,91.24 L279.20,91.26 L279.70,91.39 L280.20,91.24 L280.70,88.70 L281.20,84.20 L281.70,88.70 L282.20,89.30 L282.70,89.00 L283.20,90.50 L283.70,91.04 L284.20,91.29 L284.70,91.17 L285.20,91.17 L285.70,91.27 L286.20,91.40 L286.70,91.35 L287.20,88.90 L287.70,88.40 L288.20,90.90 L288.70,89.53 L289.20,89.15 L289.70,91.02 L290.20,91.29 L290.70,91.27 L291.20,91.21 L291.70,91.29 L292.20,91.27 L292.70,91.23 L293.20,90.65 L293.70,90.40 L294.20,91.18 L294.70,91.34 L295.20,91.16 L295.70,91.37 L296.20,91.22 L296.70,91.30 L297.20,91.13 L297.70,91.18 L298.20,91.11 L298.70,91.36 L299.20,91.16 L299.70,91.02 L300.20,91.28 L300.70,91.19 L301.20,91.23 L301.70,91.32 L302.20,91.27 L302.70,91.40 L303.20,91.29 L303.70,91.27 L304.20,91.27 L304.70,91.01 L305.20,91.16 L305.70,91.29 L306.20,91.09 L306.70,91.35 L307.20,91.17 L307.70,91.34 L308.20,91.03 L308.70,91.22 L309.20,91.38 L309.70,91.29 L310.20,89.97 L310.70,89.61 L311.20,91.06 L311.70,91.05 L312.20,91.32 L312.70,91.17 L313.20,91.35 L313.70,91.34 L314.20,91.34 L314.70,91.32 L315.20,91.32 L315.70,91.33 L316.20,91.36 L316.70,91.40 L317.20,89.35 L317.70,79.10 L318.20,89.35 L318.70,91.37 L319.20,91.29 L319.70,91.19 L320.20,91.27 L320.70,91.15 L321.20,91.19 L321.70,91.24 L322.20,91.31 L322.70,91.35 L323.20,91.10 L323.70,91.33 L324.20,91.06 L324.70,91.23 L325.20,91.30 L325.70,91.22 L326.20,91.22 L326.70,91.02 L327.20,91.26 L327.70,91.01 L328.20,91.31 L328.70,90.37 L329.20,85.20 L329.70,90.37 L330.20,91.29 L330.70,91.24 L331.20,91.39 L331.70,91.34 L332.20,91.27 L332.70,91.24 L333.20,91.18 L333.70,91.32 L334.20,91.36 L334.70,91.24 L335.20,91.07 L335.70,91.24 L336.20,86.80 L336.70,85.27 L337.20,91.19 L337.70,91.19 L338.20,91.18 L338.70,91.23 L339.20,91.39 L339.70,91.26 L340.20,91.07 L340.70,91.24 L341.20,91.23 L341.70,91.40 L342.20,91.21 L342.70,91.27 L343.20,91.38 L343.70,91.34 L344.20,91.29 L344.70,91.35 L345.20,91.16 L345.70,91.30 L346.20,91.23 L346.70,89.17 L347.20,78.00 L347.70,89.17 L348.20,87.40 L348.70,86.40 L349.20,91.29 L349.70,91.23 L350.20,91.33 L350.70,91.28 L351.20,91.37 L351.70,91.35 L352.20,91.17 L352.70,91.22 L353.20,91.16 L353.70,91.33 L354.20,91.02 L354.70,91.17 L355.20,91.19 L355.70,91.37 L356.20,91.27 L356.70,91.22 L357.20,91.04 L357.70,91.39 L358.20,91.20 L358.70,91.32 L359.20,91.26 L359.70,91.19 L360.20,91.10 L360.70,91.37 L361.20,91.22 L361.70,91.33 L362.20,91.30 L362.70,91.25 L363.20,91.29 L363.70,91.38 L364.20,91.07 L364.70,91.03 L365.20,91.29 L365.70,91.35 L366.20,91.16 L366.70,91.20 L367.20,91.17 L367.70,91.26 L368.20,91.39 L368.70,91.29 L369.20,91.24 L369.70,91.38 L370.20,91.37 L370.70,91.31 L371.20,91.10 L371.70,91.33 L372.20,91.32 L372.70,91.30 L373.20,91.34 L373.70,91.04 L374.20,91.34 L374.70,91.15 L375.20,91.37 L375.70,91.36 L376.20,91.38 L376.70,91.30 L377.20,91.18 L377.70,91.30 L378.20,91.27 L378.70,91.32 L379.20,91.29 L379.70,91.37 L380.20,91.24 L380.70,91.35 L381.20,91.30 L381.70,91.29 L382.20,91.19 L382.70,91.39 L383.20,91.12 L383.70,91.28 L384.20,91.40 L384.70,91.17 L385.20,91.19 L385.70,91.34 L386.20,91.34 L386.70,91.23 L387.20,91.22 L387.70,91.21 L388.20,91.26 L388.70,91.09 L389.20,91.03 L389.70,91.32 L390.20,91.30 L390.70,91.23 L391.20,90.65 L391.70,90.40 L392.20,91.34 L392.70,91.40 L393.20,91.28 L393.70,91.24 L394.20,91.28 L394.70,91.30 L395.20,91.22 L395.70,91.39 L396.20,91.23 L396.70,91.34 L397.20,91.17 L397.70,91.39 L398.20,91.29 L398.70,91.35 L399.20,91.22 L399.70,91.35 L400.20,91.32 L400.70,91.34 L401.20,91.10 L401.70,91.02 L402.20,91.35 L402.70,91.23 L403.20,91.16 L403.70,91.24 L404.20,91.01 L404.70,90.40 L405.20,90.07 L405.70,91.18 L406.20,91.15 L406.70,91.32 L407.20,91.03 L407.70,91.39 L408.20,91.31 L408.70,91.32 L409.20,91.40 L409.70,91.26 L410.20,91.37 L410.70,91.35 L411.20,91.19 L411.70,91.29 L412.20,91.21 L412.70,91.17 L413.20,91.25 L413.70,91.39 L414.20,91.20 L414.70,91.39 L415.20,91.37 L415.70,91.34 L416.20,91.18 L416.70,91.33 L417.20,91.25 L417.70,91.11 L418.20,91.33 L418.70,91.10 L419.20,91.24 L419.70,91.39 L420.20,91.04 L420.70,89.26 L421.20,90.33 L421.70,91.28 L422.20,91.35 L422.70,91.22 L423.20,91.21 L423.70,91.32 L424.20,91.31 L424.70,91.38 L425.20,91.10 L425.70,91.37 L426.20,91.18 L426.70,91.15 L427.20,91.15 L427.70,91.37 L428.20,91.20 L428.70,91.29 L429.20,91.23 L429.70,91.23 L430.20,90.90 L430.70,88.40 L431.20,89.90 L431.70,91.31 L432.20,91.35 L432.70,91.30 L433.20,91.05 L433.70,91.32 L434.20,82.65 L434.70,87.90 L435.20,91.24 L435.70,91.37 L436.20,91.20 L436.70,91.17 L437.20,89.07 L437.70,89.65 L438.20,91.25 L438.70,91.31 L439.20,91.29 L439.70,91.09 L440.20,91.37 L440.70,91.25 L441.20,91.25 L441.70,91.32 L442.20,91.16 L442.70,91.35 L443.20,91.27 L443.70,91.35 L444.20,91.35 L444.70,91.26 L445.20,91.36 L445.70,91.26 L446.20,91.38 L446.70,91.12 L447.20,91.33 L447.70,91.16 L448.20,91.26 L448.70,91.30 L449.20,91.15 L449.70,91.35 L450.20,91.35 L450.70,91.04 L451.20,91.19 L451.70,91.18 L452.20,91.36 L452.70,91.18 L453.20,91.17 L453.70,91.15 L454.20,91.27 L454.70,91.29 L455.20,91.17 L455.70,91.20 L456.20,91.16 L456.70,91.35 L457.20,91.16 L457.70,91.39 L458.20,91.30 L458.70,91.24 L459.00,91.40 Z" fill="#1b2fb5" stroke="#1b2fb5" stroke-width="0.4"/>
<line x1="223.20" y1="91.40" x2="459.00" y2="91.40" stroke="#1b2fb5" stroke-width="1.0"/>
<path d="M223.20,110.10 L223.20,110.01 L223.70,109.67 L224.20,109.85 L224.70,110.08 L225.20,109.95 L225.70,109.91 L226.20,109.99 L226.70,110.06 L227.20,110.04 L227.70,109.87 L228.20,109.91 L228.70,109.91 L229.20,109.95 L229.70,109.92 L230.20,110.08 L230.70,110.00 L231.20,109.70 L231.70,109.66 L232.20,110.09 L232.70,109.98 L233.20,109.89 L233.70,110.07 L234.20,110.07 L234.70,109.88 L235.20,110.10 L235.70,109.83 L236.20,110.06 L236.70,109.87 L237.20,110.00 L237.70,110.08 L238.20,110.06 L238.70,109.86 L239.20,109.82 L239.70,110.06 L240.20,109.60 L240.70,110.07 L241.20,109.86 L241.70,109.79 L242.20,109.92 L242.70,109.95 L243.20,110.08 L243.70,109.88 L244.20,109.99 L244.70,109.85 L245.20,110.10 L245.70,110.02 L246.20,110.05 L246.70,110.02 L247.20,109.79 L247.70,109.71 L248.20,109.71 L248.70,109.98 L249.20,110.04 L249.70,109.99 L250.20,109.62 L250.70,110.01 L251.20,110.01 L251.70,110.06 L252.20,110.04 L252.70,109.61 L253.20,109.63 L253.70,109.95 L254.20,110.07 L254.70,109.91 L255.20,109.86 L255.70,110.06 L256.20,110.07 L256.70,109.82 L257.20,110.08 L257.70,109.92 L258.20,110.00 L258.70,110.06 L259.20,109.91 L259.70,109.98 L260.20,110.08 L260.70,110.06 L261.20,110.08 L261.70,110.04 L262.20,110.01 L262.70,109.96 L263.20,110.06 L263.70,109.86 L264.20,109.86 L264.70,109.60 L265.20,109.96 L265.70,109.97 L266.20,110.08 L266.70,109.96 L267.20,109.92 L267.70,110.07 L268.20,109.99 L268.70,109.94 L269.20,109.80 L269.70,109.88 L270.20,109.69 L270.70,109.94 L271.20,108.85 L271.70,108.60 L272.20,109.85 L272.70,110.01 L273.20,110.05 L273.70,109.92 L274.20,109.97 L274.70,109.71 L275.20,109.90 L275.70,109.62 L276.20,109.86 L276.70,109.89 L277.20,109.93 L277.70,109.71 L278.20,109.99 L278.70,110.04 L279.20,109.86 L279.70,109.91 L280.20,109.97 L280.70,108.47 L281.20,104.40 L281.70,108.47 L282.20,109.86 L282.70,110.05 L283.20,110.09 L283.70,109.67 L284.20,110.04 L284.70,109.96 L285.20,108.85 L285.70,108.43 L286.20,109.87 L286.70,109.87 L287.20,110.08 L287.70,98.30 L288.20,109.98 L288.70,109.89 L289.20,110.05 L289.70,109.87 L290.20,109.96 L290.70,110.05 L291.20,110.02 L291.70,109.83 L292.20,109.74 L292.70,110.07 L293.20,108.60 L293.70,108.10 L294.20,109.88 L294.70,110.05 L295.20,110.02 L295.70,109.82 L296.20,109.88 L296.70,109.89 L297.20,110.08 L297.70,110.03 L298.20,110.08 L298.70,109.64 L299.20,110.03 L299.70,110.05 L300.20,109.85 L300.70,110.00 L301.20,109.97 L301.70,109.75 L302.20,110.03 L302.70,110.00 L303.20,109.79 L303.70,109.96 L304.20,109.76 L304.70,109.86 L305.20,109.93 L305.70,109.91 L306.20,110.03 L306.70,109.93 L307.20,109.93 L307.70,110.01 L308.20,109.96 L308.70,110.09 L309.20,109.71 L309.70,110.08 L310.20,109.99 L310.70,109.87 L311.20,110.00 L311.70,109.99 L312.20,109.85 L312.70,109.92 L313.20,110.08 L313.70,110.00 L314.20,109.94 L314.70,109.96 L315.20,109.86 L315.70,109.92 L316.20,109.91 L316.70,110.05 L317.20,107.73 L317.70,107.25 L318.20,109.62 L318.70,109.67 L319.20,110.05 L319.70,110.03 L320.20,109.95 L320.70,109.90 L321.20,109.99 L321.70,110.09 L322.20,110.03 L322.70,110.05 L323.20,109.97 L323.70,109.89 L324.20,109.87 L324.70,109.91 L325.20,110.00 L325.70,109.86 L326.20,109.68 L326.70,110.08 L327.20,109.97 L327.70,109.79 L328.20,110.01 L328.70,110.00 L329.20,102.40 L329.70,109.89 L330.20,110.09 L330.70,110.07 L331.20,110.04 L331.70,109.78 L332.20,110.01 L332.70,110.02 L333.20,109.96 L333.70,109.73 L334.20,110.08 L334.70,109.68 L335.20,110.01 L335.70,109.92 L336.20,106.22 L336.70,104.28 L337.20,109.81 L337.70,109.89 L338.20,109.93 L338.70,110.01 L339.20,109.88 L339.70,109.61 L340.20,109.99 L340.70,109.70 L341.20,109.91 L341.70,109.66 L342.20,109.93 L342.70,109.97 L343.20,110.08 L343.70,110.00 L344.20,110.05 L344.70,109.90 L345.20,109.99 L345.70,109.88 L346.20,109.86 L346.70,109.86 L347.20,108.10 L347.70,107.60 L348.20,110.04 L348.70,110.05 L349.20,110.00 L349.70,109.62 L350.20,109.66 L350.70,109.93 L351.20,109.73 L351.70,110.05 L352.20,109.94 L352.70,109.91 L353.20,110.02 L353.70,109.91 L354.20,109.95 L354.70,109.98 L355.20,109.90 L355.70,109.92 L356.20,109.86 L356.70,109.97 L357.20,109.78 L357.70,109.97 L358.20,109.96 L358.70,109.96 L359.20,110.08 L359.70,109.93 L360.20,110.06 L360.70,109.66 L361.20,109.99 L361.70,109.91 L362.20,109.91 L362.70,109.61 L363.20,110.02 L363.70,109.88 L364.20,109.93 L364.70,109.86 L365.20,109.70 L365.70,109.90 L366.20,109.89 L366.70,109.90 L367.20,110.09 L367.70,109.68 L368.20,109.96 L368.70,109.71 L369.20,110.03 L369.70,110.03 L370.20,109.73 L370.70,110.06 L371.20,110.08 L371.70,109.90 L372.20,109.91 L372.70,109.75 L373.20,109.91 L373.70,109.97 L374.20,109.92 L374.70,109.98 L375.20,110.04 L375.70,109.92 L376.20,110.09 L376.70,110.07 L377.20,109.95 L377.70,110.00 L378.20,109.90 L378.70,109.93 L379.20,110.01 L379.70,110.08 L380.20,109.92 L380.70,110.01 L381.20,109.88 L381.70,109.87 L382.20,110.04 L382.70,110.06 L383.20,109.70 L383.70,110.02 L384.20,110.07 L384.70,110.02 L385.20,109.93 L385.70,110.06 L386.20,110.07 L386.70,109.93 L387.20,109.98 L387.70,110.03 L388.20,110.06 L388.70,110.03 L389.20,109.88 L389.70,109.94 L390.20,110.10 L390.70,109.88 L391.20,109.97 L391.70,109.86 L392.20,110.02 L392.70,110.10 L393.20,110.06 L393.70,109.90 L394.20,109.86 L394.70,109.92 L395.20,109.74 L395.70,109.70 L396.20,109.96 L396.70,109.85 L397.20,109.65 L397.70,110.05 L398.20,110.08 L398.70,110.05 L399.20,110.03 L399.70,109.90 L400.20,110.03 L400.70,110.06 L401.20,109.75 L401.70,109.91 L402.20,109.87 L402.70,109.96 L403.20,109.81 L403.70,109.92 L404.20,109.70 L404.70,109.10 L405.20,109.93 L405.70,110.02 L406.20,109.99 L406.70,110.05 L407.20,109.99 L407.70,110.05 L408.20,109.98 L408.70,109.91 L409.20,109.94 L409.70,110.07 L410.20,110.08 L410.70,109.68 L411.20,109.96 L411.70,109.86 L412.20,110.05 L412.70,109.89 L413.20,110.02 L413.70,110.07 L414.20,110.08 L414.70,109.95 L415.20,109.63 L415.70,110.00 L416.20,109.88 L416.70,109.91 L417.20,109.74 L417.70,110.09 L418.20,109.97 L418.70,109.97 L419.20,110.00 L419.70,110.05 L420.20,109.53 L420.70,106.67 L421.20,108.39 L421.70,109.86 L422.20,110.01 L422.70,109.99 L423.20,109.96 L423.70,109.94 L424.20,109.92 L424.70,109.86 L425.20,106.63 L425.70,107.50 L426.20,110.00 L426.70,110.01 L427.20,109.93 L427.70,109.86 L428.20,110.00 L428.70,109.89 L429.20,110.07 L429.70,109.89 L430.20,109.98 L430.70,107.18 L431.20,108.93 L431.70,109.96 L432.20,110.07 L432.70,109.89 L433.20,110.05 L433.70,109.79 L434.20,106.67 L434.70,101.52 L435.20,109.87 L435.70,110.06 L436.20,110.04 L436.70,109.67 L437.20,107.03 L437.70,107.80 L438.20,110.00 L438.70,110.02 L439.20,110.07 L439.70,109.90 L440.20,109.90 L440.70,109.92 L441.20,109.67 L441.70,109.95 L442.20,109.94 L442.70,110.04 L443.20,109.99 L443.70,110.09 L444.20,109.98 L444.70,110.01 L445.20,110.07 L445.70,110.04 L446.20,109.96 L446.70,109.96 L447.20,110.09 L447.70,109.97 L448.20,110.07 L448.70,110.08 L449.20,110.07 L449.70,110.06 L450.20,110.09 L450.70,110.05 L451.20,109.92 L451.70,109.96 L452.20,110.10 L452.70,109.98 L453.20,109.91 L453.70,110.00 L454.20,110.02 L454.70,109.96 L455.20,110.09 L455.70,110.02 L456.20,110.04 L456.70,109.88 L457.20,109.80 L457.70,109.91 L458.20,109.73 L458.70,110.06 L459.00,110.10 Z" fill="#1b2fb5" stroke="#1b2fb5" stroke-width="0.4"/>
<line x1="223.20" y1="110.10" x2="459.00" y2="110.10" stroke="#1b2fb5" stroke-width="1.0"/>
<path d="M223.20,128.60 L223.20,128.46 L223.70,128.48 L224.20,128.45 L224.70,128.45 L225.20,128.40 L225.70,128.51 L226.20,128.36 L226.70,128.59 L227.20,128.36 L227.70,128.45 L228.20,128.60 L228.70,128.59 L229.20,128.53 L229.70,128.46 L230.20,128.39 L230.70,128.44 L231.20,128.43 L231.70,128.53 L232.20,128.35 L232.70,128.42 L233.20,128.54 L233.70,128.58 L234.20,128.50 L234.70,128.50 L235.20,128.39 L235.70,128.54 L236.20,128.48 L236.70,128.50 L237.20,128.41 L237.70,128.53 L238.20,128.50 L238.70,128.41 L239.20,128.53 L239.70,128.58 L240.20,128.56 L240.70,128.49 L241.20,128.38 L241.70,128.41 L242.20,128.47 L242.70,128.52 L243.20,128.40 L243.70,128.38 L244.20,128.48 L244.70,128.44 L245.20,128.30 L245.70,128.52 L246.20,128.52 L246.70,128.58 L247.20,128.43 L247.70,128.42 L248.20,128.49 L248.70,128.48 L249.20,128.38 L249.70,128.55 L250.20,128.40 L250.70,128.54 L251.20,128.36 L251.70,128.31 L252.20,128.45 L252.70,128.57 L253.20,128.31 L253.70,128.39 L254.20,128.35 L254.70,128.53 L255.20,128.38 L255.70,128.53 L256.20,128.39 L256.70,128.53 L257.20,128.55 L257.70,128.52 L258.20,128.58 L258.70,128.49 L259.20,128.57 L259.70,128.38 L260.20,128.44 L260.70,128.45 L261.20,128.59 L261.70,128.33 L262.20,128.36 L262.70,128.41 L263.20,128.42 L263.70,128.35 L264.20,128.44 L264.70,128.37 L265.20,128.42 L265.70,128.37 L266.20,128.43 L266.70,128.38 L267.20,128.40 L267.70,128.46 L268.20,128.50 L268.70,128.00 L269.20,126.50 L269.70,125.00 L270.20,123.50 L270.70,123.20 L271.20,124.70 L271.70,123.80 L272.20,119.80 L272.70,119.00 L273.20,123.00 L273.70,127.00 L274.20,126.20 L274.70,125.20 L275.20,125.00 L275.70,126.00 L276.20,127.00 L276.70,128.00 L277.20,128.47 L277.70,128.37 L278.20,128.50 L278.70,128.52 L279.20,126.65 L279.70,121.79 L280.20,116.92 L280.70,115.95 L281.20,120.81 L281.70,123.80 L282.20,121.80 L282.70,121.40 L283.20,123.40 L283.70,125.40 L284.20,127.40 L284.70,126.50 L285.20,125.00 L285.70,123.50 L286.20,123.20 L286.70,124.70 L287.20,122.96 L287.70,119.83 L288.20,121.71 L288.70,124.84 L289.20,126.20 L289.70,125.20 L290.20,125.00 L290.70,126.00 L291.20,127.00 L291.70,128.00 L292.20,127.93 L292.70,126.27 L293.20,124.60 L293.70,124.27 L294.20,125.93 L294.70,127.18 L295.20,126.77 L295.70,126.35 L296.20,126.27 L296.70,126.68 L297.20,127.10 L297.70,127.52 L298.20,127.70 L298.70,127.33 L299.20,127.25 L299.70,127.62 L300.20,128.00 L300.70,128.38 L301.20,128.41 L301.70,128.59 L302.20,128.58 L302.70,128.56 L303.20,128.40 L303.70,128.56 L304.20,128.42 L304.70,128.43 L305.20,128.48 L305.70,128.58 L306.20,128.44 L306.70,128.38 L307.20,128.47 L307.70,128.46 L308.20,128.50 L308.70,128.37 L309.20,128.34 L309.70,128.47 L310.20,128.55 L310.70,128.47 L311.20,128.59 L311.70,128.47 L312.20,128.40 L312.70,128.48 L313.20,128.58 L313.70,128.50 L314.20,128.37 L314.70,128.46 L315.20,128.47 L315.70,128.37 L316.20,128.52 L316.70,128.41 L317.20,128.57 L317.70,128.59 L318.20,128.53 L318.70,128.52 L319.20,128.45 L319.70,128.38 L320.20,128.45 L320.70,128.54 L321.20,128.49 L321.70,128.50 L322.20,128.56 L322.70,128.41 L323.20,128.47 L323.70,128.45 L324.20,128.54 L324.70,128.40 L325.20,128.52 L325.70,128.37 L326.20,128.30 L326.70,128.57 L327.20,126.84 L327.70,124.64 L328.20,122.44 L328.70,120.24 L329.20,121.56 L329.70,123.76 L330.20,125.96 L330.70,128.16 L331.20,128.41 L331.70,128.43 L332.20,128.58 L332.70,128.59 L333.20,128.47 L333.70,128.56 L334.20,128.54 L334.70,128.35 L335.20,125.29 L335.70,121.98 L336.20,118.66 L336.70,120.65 L337.20,123.96 L337.70,127.27 L338.20,128.39 L338.70,128.46 L339.20,128.50 L339.70,128.55 L340.20,128.60 L340.70,128.40 L341.20,128.38 L341.70,128.50 L342.20,128.47 L342.70,128.40 L343.20,128.33 L343.70,128.41 L344.20,127.09 L344.70,125.20 L345.20,123.32 L345.70,121.43 L346.20,121.05 L346.70,122.94 L347.20,124.83 L347.70,125.20 L348.20,125.00 L348.70,126.00 L349.20,127.00 L349.70,128.00 L350.20,128.44 L350.70,128.41 L351.20,128.59 L351.70,128.42 L352.20,128.48 L352.70,128.54 L353.20,128.58 L353.70,128.33 L354.20,128.47 L354.70,128.46 L355.20,128.44 L355.70,128.58 L356.20,128.41 L356.70,128.32 L357.20,128.46 L357.70,128.45 L358.20,128.59 L358.70,128.49 L359.20,128.45 L359.70,128.53 L360.20,128.46 L360.70,128.39 L361.20,128.60 L361.70,128.59 L362.20,128.37 L362.70,128.38 L363.20,128.59 L363.70,128.36 L364.20,128.33 L364.70,128.48 L365.20,128.54 L365.70,128.37 L366.20,128.48 L366.70,128.40 L367.20,128.57 L367.70,128.49 L368.20,128.58 L368.70,128.57 L369.20,128.43 L369.70,128.53 L370.20,128.50 L370.70,128.47 L371.20,128.36 L371.70,128.54 L372.20,128.33 L372.70,128.44 L373.20,128.53 L373.70,128.46 L374.20,128.44 L374.70,128.55 L375.20,128.31 L375.70,128.38 L376.20,128.58 L376.70,128.47 L377.20,128.57 L377.70,128.58 L378.20,128.40 L378.70,128.44 L379.20,128.48 L379.70,128.50 L380.20,128.39 L380.70,128.56 L381.20,128.44 L381.70,128.55 L382.20,128.54 L382.70,128.51 L383.20,128.35 L383.70,128.46 L384.20,128.37 L384.70,128.51 L385.20,128.34 L385.70,128.58 L386.20,128.48 L386.70,128.53 L387.20,128.58 L387.70,128.40 L388.20,128.51 L388.70,128.43 L389.20,128.56 L389.70,128.42 L390.20,128.57 L390.70,128.46 L391.20,128.37 L391.70,128.49 L392.20,128.52 L392.70,128.50 L393.20,128.38 L393.70,128.49 L394.20,128.51 L394.70,128.50 L395.20,128.43 L395.70,128.46 L396.20,128.46 L396.70,128.37 L397.20,128.53 L397.70,128.45 L398.20,128.46 L398.70,128.44 L399.20,128.58 L399.70,128.40 L400.20,128.58 L400.70,128.38 L401.20,128.41 L401.70,128.38 L402.20,128.54 L402.70,128.37 L403.20,128.41 L403.70,128.52 L404.20,127.60 L404.70,126.85 L405.20,128.10 L405.70,128.50 L406.20,128.43 L406.70,128.40 L407.20,128.38 L407.70,128.44 L408.20,128.42 L408.70,128.49 L409.20,128.56 L409.70,128.35 L410.20,128.56 L410.70,128.47 L411.20,128.31 L411.70,128.51 L412.20,128.41 L412.70,128.56 L413.20,128.46 L413.70,128.37 L414.20,128.57 L414.70,128.53 L415.20,128.38 L415.70,128.54 L416.20,128.52 L416.70,128.37 L417.20,128.46 L417.70,128.48 L418.20,128.33 L418.70,128.51 L419.20,128.36 L419.70,125.40 L420.20,121.40 L420.70,117.40 L421.20,119.80 L421.70,123.80 L422.20,123.32 L422.70,123.08 L423.20,124.28 L423.70,125.48 L424.20,126.68 L424.70,127.00 L425.20,126.00 L425.70,126.20 L426.20,127.20 L426.70,128.20 L427.20,128.35 L427.70,128.39 L428.20,128.52 L428.70,128.58 L429.20,127.88 L429.70,126.07 L430.20,124.27 L430.70,122.46 L431.20,123.54 L431.70,125.35 L432.20,127.16 L432.70,128.35 L433.20,127.63 L433.70,125.19 L434.20,122.75 L434.70,121.29 L435.20,123.72 L435.70,126.10 L436.20,124.71 L436.70,123.88 L437.20,125.27 L437.70,126.66 L438.20,126.20 L438.70,126.00 L439.20,127.00 L439.70,128.00 L440.20,128.50 L440.70,128.43 L441.20,128.54 L441.70,128.52 L442.20,128.46 L442.70,128.52 L443.20,128.58 L443.70,128.57 L444.20,128.42 L444.70,128.48 L445.20,128.45 L445.70,128.53 L446.20,128.56 L446.70,128.58 L447.20,128.49 L447.70,128.44 L448.20,128.39 L448.70,128.52 L449.20,128.60 L449.70,128.43 L450.20,128.40 L450.70,128.45 L451.20,128.50 L451.70,128.44 L452.20,128.49 L452.70,128.40 L453.20,128.45 L453.70,128.37 L454.20,128.46 L454.70,128.47 L455.20,128.39 L455.70,128.47 L456.20,128.39 L456.70,128.32 L457.20,128.55 L457.70,128.53 L458.20,128.43 L458.70,128.37 L459.00,128.60 Z" fill="#1b2fb5" stroke="#1b2fb5" stroke-width="0.4"/>
<line x1="223.20" y1="128.60" x2="459.00" y2="128.60" stroke="#1b2fb5" stroke-width="1.0"/>
<path d="M222.20,147.50 L223.60,138.50 L224.00,138.50 L225.40,147.50 Z" fill="#b51d3b"/>
<path d="M222.60,147.50 L224.60,142.50 L225.00,142.50 L227.00,147.50 Z" fill="#b51d3b"/>
<path d="M228.80,147.50 L229.20,145.00 L229.60,145.00 L230.00,147.50 Z" fill="#b51d3b"/>
<path d="M239.50,147.50 L241.80,146.30 L242.20,146.30 L244.50,147.50 Z" fill="#b51d3b"/>
<path d="M244.60,147.50 L245.00,143.50 L245.40,143.50 L245.80,147.50 Z" fill="#b51d3b"/>
<path d="M256.90,147.50 L257.20,144.50 L257.60,144.50 L257.90,147.50 Z" fill="#b51d3b"/>
<path d="M266.90,147.50 L267.20,144.00 L267.60,144.00 L267.90,147.50 Z" fill="#b51d3b"/>
<path d="M270.40,147.50 L270.70,134.90 L271.10,134.90 L271.40,147.50 Z" fill="#b51d3b"/>
<path d="M270.00,147.50 L270.70,142.50 L271.10,142.50 L271.80,147.50 Z" fill="#b51d3b"/>
<line x1="223.20" y1="147.50" x2="459.00" y2="147.50" stroke="#d98b9c" stroke-width="1.0"/>
<path d="M222.40,166.10 L223.60,158.90 L224.00,158.90 L225.20,166.10 Z" fill="#b51d3b"/>
<path d="M222.80,166.10 L224.60,162.10 L225.00,162.10 L226.80,166.10 Z" fill="#b51d3b"/>
<path d="M228.80,166.10 L229.20,164.60 L229.60,164.60 L230.00,166.10 Z" fill="#b51d3b"/>
<path d="M244.60,166.10 L245.00,163.60 L245.40,163.60 L245.80,166.10 Z" fill="#b51d3b"/>
<path d="M256.90,166.10 L257.20,164.10 L257.60,164.10 L257.90,166.10 Z" fill="#b51d3b"/>
<path d="M266.90,166.10 L267.20,164.60 L267.60,164.60 L267.90,166.10 Z" fill="#b51d3b"/>
<path d="M270.20,166.10 L270.70,160.10 L271.10,160.10 L271.60,166.10 Z" fill="#b51d3b"/>
<line x1="223.20" y1="166.10" x2="459.00" y2="166.10" stroke="#d98b9c" stroke-width="1.0"/>
<path d="M222.60,185.00 L223.80,181.50 L224.20,181.50 L225.40,185.00 Z" fill="#b51d3b"/>
<path d="M244.60,185.00 L245.00,184.00 L245.40,184.00 L245.80,185.00 Z" fill="#b51d3b"/>
<path d="M270.10,185.00 L270.70,182.50 L271.10,182.50 L271.70,185.00 Z" fill="#b51d3b"/>
<line x1="223.20" y1="185.00" x2="459.00" y2="185.00" stroke="#d98b9c" stroke-width="1.0"/>
<line x1="224.00" y1="189.70" x2="348.40" y2="189.70" stroke="#7f8de0" stroke-width="0.9"/>
<rect x="223.90" y="187.70" width="1.2" height="4" fill="#2a3bd0"/>
<rect x="229.40" y="187.70" width="1.2" height="4" fill="#2a3bd0"/>
<rect x="240.40" y="187.70" width="1.2" height="4" fill="#2a3bd0"/>
<rect x="246.40" y="187.70" width="1.2" height="4" fill="#2a3bd0"/>
<rect x="258.40" y="187.70" width="1.2" height="4" fill="#2a3bd0"/>
<rect x="267.40" y="187.70" width="1.2" height="4" fill="#2a3bd0"/>
<rect x="270.00" y="187.70" width="1.2" height="4" fill="#2a3bd0"/>
<rect x="273.40" y="187.70" width="1.2" height="4" fill="#2a3bd0"/>
<rect x="223.6" y="187.50" width="2.2" height="4.4" fill="#2a3bd0"/>
<circle cx="280.5" cy="189.7" r="0.8" fill="#5a6ae0"/>
<circle cx="288.5" cy="189.7" r="0.8" fill="#5a6ae0"/>
<circle cx="296.5" cy="189.7" r="0.8" fill="#5a6ae0"/>
<circle cx="304.5" cy="189.7" r="0.8" fill="#5a6ae0"/>
<circle cx="312.5" cy="189.7" r="0.8" fill="#5a6ae0"/>
<circle cx="320.5" cy="189.7" r="0.8" fill="#5a6ae0"/>
<circle cx="328.5" cy="189.7" r="0.8" fill="#5a6ae0"/>
<circle cx="336.5" cy="189.7" r="0.8" fill="#5a6ae0"/>
<circle cx="344.5" cy="189.7" r="0.8" fill="#5a6ae0"/>
<line x1="348.40" y1="187.70" x2="348.40" y2="191.70" stroke="#5a6ae0" stroke-width="0.9"/>
<line x1="240.00" y1="197.00" x2="306.50" y2="197.00" stroke="#333" stroke-width="1.1"/>
<path d="M236.5,197 L242.5,194.8 L242.5,199.2 Z" fill="#333"/>
<text x="309.18" y="199.63" font-size="8.35" fill="#141414" text-anchor="start" stroke="#141414" stroke-width="0.18" textLength="23.41" lengthAdjust="spacingAndGlyphs" >RUNX1</text>
<line x1="222.70" y1="37.60" x2="459.50" y2="37.60" stroke="#3a3a3a" stroke-width="1.1"/>
<line x1="222.70" y1="37.60" x2="222.70" y2="201.70" stroke="#3a3a3a" stroke-width="1.1"/>
<line x1="459.50" y1="37.60" x2="459.50" y2="201.70" stroke="#3a3a3a" stroke-width="1.1"/>
<line x1="222.70" y1="201.70" x2="459.50" y2="201.70" stroke="#3a3a3a" stroke-width="1.1"/>
<ellipse cx="451.2" cy="41.30" rx="5.2" ry="3.4" fill="#ffffff"/>
<text x="451.20" y="43.10" font-size="5.90" fill="#4a4a4a" text-anchor="middle" >1.5</text>
<ellipse cx="451.2" cy="59.30" rx="5.2" ry="3.4" fill="#ffffff"/>
<text x="451.20" y="61.10" font-size="5.90" fill="#4a4a4a" text-anchor="middle" >1.5</text>
<ellipse cx="451.2" cy="78.60" rx="5.2" ry="3.4" fill="#ffffff"/>
<text x="451.20" y="80.40" font-size="5.90" fill="#4a4a4a" text-anchor="middle" >7</text>
<ellipse cx="451.2" cy="97.30" rx="5.2" ry="3.4" fill="#ffffff"/>
<text x="451.20" y="99.10" font-size="5.90" fill="#4a4a4a" text-anchor="middle" >4</text>
<ellipse cx="451.2" cy="115.90" rx="5.2" ry="3.4" fill="#ffffff"/>
<text x="451.20" y="117.70" font-size="5.90" fill="#4a4a4a" text-anchor="middle" >7</text>
<ellipse cx="451.2" cy="133.70" rx="5.2" ry="3.4" fill="#ffffff"/>
<text x="451.20" y="135.50" font-size="5.90" fill="#4a4a4a" text-anchor="middle" >3.5</text>
<ellipse cx="451.2" cy="151.90" rx="5.2" ry="3.4" fill="#ffffff"/>
<text x="451.20" y="153.70" font-size="5.90" fill="#4a4a4a" text-anchor="middle" >3.5</text>
<ellipse cx="451.2" cy="170.30" rx="5.2" ry="3.4" fill="#ffffff"/>
<text x="451.20" y="172.10" font-size="5.90" fill="#4a4a4a" text-anchor="middle" >3.5</text>
<text x="200.18" y="49.31" font-size="8.77" fill="#3f5894" text-anchor="start" stroke="#3f5894" stroke-width="0.18" textLength="18.63" lengthAdjust="spacingAndGlyphs" >Input</text>
<text x="195.52" y="68.68" font-size="8.77" fill="#3f5894" text-anchor="start" stroke="#3f5894" stroke-width="0.18" textLength="23.20" lengthAdjust="spacingAndGlyphs" >EP1-hf</text>
<text x="192.62" y="87.57" font-size="8.77" fill="#3f5894" text-anchor="start" stroke="#3f5894" stroke-width="0.18" textLength="26.01" lengthAdjust="spacingAndGlyphs" >RUNX1</text>
<text x="200.71" y="106.65" font-size="8.77" fill="#3f5894" text-anchor="start" stroke="#3f5894" stroke-width="0.18" textLength="18.36" lengthAdjust="spacingAndGlyphs" >p300</text>
<text x="186.91" y="125.12" font-size="8.77" fill="#3f5894" text-anchor="start" stroke="#3f5894" stroke-width="0.18" textLength="32.05" lengthAdjust="spacingAndGlyphs" >H3K27ac</text>
<text x="199.95" y="144.99" font-size="8.77" fill="#b8304e" text-anchor="start" stroke="#b8304e" stroke-width="0.18" textLength="18.92" lengthAdjust="spacingAndGlyphs" >shScr</text>
<text x="187.53" y="163.09" font-size="8.77" fill="#b8304e" text-anchor="start" stroke="#b8304e" stroke-width="0.18" textLength="31.87" lengthAdjust="spacingAndGlyphs" >shE2A-N</text>
<text x="185.04" y="182.84" font-size="8.77" fill="#b8304e" text-anchor="start" stroke="#b8304e" stroke-width="0.18" textLength="33.57" lengthAdjust="spacingAndGlyphs" >shRUNX1</text>
<text x="363.94" y="34.88" font-size="8.35" fill="#141414" text-anchor="start" stroke="#141414" stroke-width="0.18" textLength="25.75" lengthAdjust="spacingAndGlyphs" >100 Kb</text>
<line x1="407.00" y1="32.50" x2="448.00" y2="32.50" stroke="#111" stroke-width="1.1"/>
<path d="M403.8,32.5 L409.3,30.1 L409.3,34.9 Z" fill="#111"/>
<path d="M451.2,32.5 L445.7,30.1 L445.7,34.9 Z" fill="#111"/>
<line x1="464.70" y1="39.30" x2="464.70" y2="127.30" stroke="#222" stroke-width="1.2"/>
<line x1="464.70" y1="130.40" x2="464.70" y2="184.60" stroke="#222" stroke-width="1.2"/>
<text x="469.45" y="67.26" font-size="9.84" fill="#141414" text-anchor="start" stroke="#141414" stroke-width="0.18" textLength="32.59" lengthAdjust="spacingAndGlyphs" transform="rotate(90 469.45 67.26)" >ChIP-seq</text>
<text x="469.64" y="141.80" font-size="9.84" fill="#141414" text-anchor="start" stroke="#141414" stroke-width="0.18" textLength="32.06" lengthAdjust="spacingAndGlyphs" transform="rotate(90 469.64 141.80)" >RNA-seq</text>
<text x="6.90" y="235.41" font-size="12.10" fill="#000" text-anchor="start" stroke="#000" stroke-width="0.3" font-weight="bold" textLength="8.05" lengthAdjust="spacingAndGlyphs" >C</text>
<line x1="39.90" y1="244.00" x2="39.90" y2="372.60" stroke="#555" stroke-width="1.5"/>
<line x1="39.20" y1="372.20" x2="140.50" y2="372.20" stroke="#333" stroke-width="1.3"/>
<line x1="36.40" y1="371.90" x2="39.90" y2="371.90" stroke="#444" stroke-width="1"/>
<text x="29.75" y="374.52" font-size="8.35" fill="#1c1c1c" text-anchor="start" stroke="#1c1c1c" stroke-width="0.18" textLength="4.19" lengthAdjust="spacingAndGlyphs" >0</text>
<line x1="36.40" y1="330.20" x2="39.90" y2="330.20" stroke="#444" stroke-width="1"/>
<text x="25.65" y="332.82" font-size="8.35" fill="#1c1c1c" text-anchor="start" stroke="#1c1c1c" stroke-width="0.18" textLength="8.30" lengthAdjust="spacingAndGlyphs" >50</text>
<line x1="36.40" y1="288.50" x2="39.90" y2="288.50" stroke="#444" stroke-width="1"/>
<text x="20.97" y="291.12" font-size="8.35" fill="#1c1c1c" text-anchor="start" stroke="#1c1c1c" stroke-width="0.18" textLength="12.98" lengthAdjust="spacingAndGlyphs" >100</text>
<line x1="36.40" y1="246.80" x2="39.90" y2="246.80" stroke="#444" stroke-width="1"/>
<text x="20.97" y="249.42" font-size="8.35" fill="#1c1c1c" text-anchor="start" stroke="#1c1c1c" stroke-width="0.18" textLength="12.98" lengthAdjust="spacingAndGlyphs" >150</text>
<rect x="45.40" y="288.50" width="4.20" height="83.40" fill="#4a5160" />
<line x1="53.47" y1="346.05" x2="53.47" y2="347.71" stroke="#333" stroke-width="1.0"/>
<line x1="51.67" y1="346.05" x2="55.27" y2="346.05" stroke="#333" stroke-width="1.0"/>
<rect x="51.37" y="347.71" width="4.20" height="24.19" fill="#e08a1c" />
<line x1="59.44" y1="353.13" x2="59.44" y2="353.55" stroke="#333" stroke-width="1.0"/>
<line x1="57.64" y1="353.13" x2="61.24" y2="353.13" stroke="#333" stroke-width="1.0"/>
<rect x="57.34" y="353.55" width="4.20" height="18.35" fill="#f1c12a" />
<line x1="65.41" y1="340.21" x2="65.41" y2="351.05" stroke="#333" stroke-width="1.0"/>
<line x1="63.61" y1="340.21" x2="67.21" y2="340.21" stroke="#333" stroke-width="1.0"/>
<rect x="63.31" y="351.05" width="4.20" height="20.85" fill="#2e6a4c" />
<line x1="71.38" y1="351.05" x2="71.38" y2="356.89" stroke="#333" stroke-width="1.0"/>
<line x1="69.58" y1="351.05" x2="73.18" y2="351.05" stroke="#333" stroke-width="1.0"/>
<rect x="69.28" y="356.89" width="4.20" height="15.01" fill="#6fb04a" />
<line x1="77.35" y1="280.16" x2="77.35" y2="297.67" stroke="#333" stroke-width="1.0"/>
<line x1="75.55" y1="280.16" x2="79.15" y2="280.16" stroke="#333" stroke-width="1.0"/>
<rect x="75.25" y="297.67" width="4.20" height="74.23" fill="#233e85" />
<line x1="83.32" y1="260.98" x2="83.32" y2="265.98" stroke="#333" stroke-width="1.0"/>
<line x1="81.52" y1="260.98" x2="85.12" y2="260.98" stroke="#333" stroke-width="1.0"/>
<rect x="81.22" y="265.98" width="4.20" height="105.92" fill="#6cb2e6" />
<rect x="95.70" y="288.50" width="4.20" height="83.40" fill="#4a5160" />
<line x1="103.72" y1="317.69" x2="103.72" y2="320.19" stroke="#333" stroke-width="1.0"/>
<line x1="101.92" y1="317.69" x2="105.52" y2="317.69" stroke="#333" stroke-width="1.0"/>
<rect x="101.62" y="320.19" width="4.20" height="51.71" fill="#e08a1c" />
<line x1="109.64" y1="339.37" x2="109.64" y2="341.04" stroke="#333" stroke-width="1.0"/>
<line x1="107.84" y1="339.37" x2="111.44" y2="339.37" stroke="#333" stroke-width="1.0"/>
<rect x="107.54" y="341.04" width="4.20" height="30.86" fill="#f1c12a" />
<line x1="115.56" y1="316.02" x2="115.56" y2="336.04" stroke="#333" stroke-width="1.0"/>
<line x1="113.76" y1="316.02" x2="117.36" y2="316.02" stroke="#333" stroke-width="1.0"/>
<rect x="113.46" y="336.04" width="4.20" height="35.86" fill="#2e6a4c" />
<line x1="121.48" y1="321.86" x2="121.48" y2="335.20" stroke="#333" stroke-width="1.0"/>
<line x1="119.68" y1="321.86" x2="123.28" y2="321.86" stroke="#333" stroke-width="1.0"/>
<rect x="119.38" y="335.20" width="4.20" height="36.70" fill="#6fb04a" />
<line x1="127.40" y1="346.88" x2="127.40" y2="349.38" stroke="#333" stroke-width="1.0"/>
<line x1="125.60" y1="346.88" x2="129.20" y2="346.88" stroke="#333" stroke-width="1.0"/>
<rect x="125.30" y="349.38" width="4.20" height="22.52" fill="#233e85" />
<line x1="133.32" y1="352.72" x2="133.32" y2="353.55" stroke="#333" stroke-width="1.0"/>
<line x1="131.52" y1="352.72" x2="135.12" y2="352.72" stroke="#333" stroke-width="1.0"/>
<rect x="131.22" y="353.55" width="4.20" height="18.35" fill="#6cb2e6" />
<text x="48.44" y="382.12" font-size="7.81" fill="#141414" text-anchor="start" stroke="#141414" stroke-width="0.18" textLength="32.88" lengthAdjust="spacingAndGlyphs" >E2APBX1</text>
<text x="102.22" y="382.05" font-size="7.81" fill="#141414" text-anchor="start" stroke="#141414" stroke-width="0.18" textLength="25.81" lengthAdjust="spacingAndGlyphs" >RUNX1</text>
<text x="15.00" y="356.85" font-size="10.06" fill="#383838" text-anchor="start" stroke="#383838" stroke-width="0.18" textLength="98.74" lengthAdjust="spacingAndGlyphs" transform="rotate(-90 15.00 356.85)" >Relative mRNA level (/RPLP0)</text>
<rect x="112.00" y="240.50" width="3.80" height="3.80" fill="#4a5160" />
<text x="119.07" y="244.78" font-size="7.49" fill="#1c1c1c" text-anchor="start" stroke="#1c1c1c" stroke-width="0.18" textLength="16.99" lengthAdjust="spacingAndGlyphs" >shScr</text>
<rect x="112.00" y="250.70" width="3.80" height="3.80" fill="#e08a1c" />
<text x="119.22" y="254.97" font-size="7.49" fill="#1c1c1c" text-anchor="start" stroke="#1c1c1c" stroke-width="0.18" textLength="7.05" lengthAdjust="spacingAndGlyphs" >#1</text>
<rect x="112.00" y="261.30" width="3.80" height="3.80" fill="#f1c12a" />
<text x="119.22" y="265.61" font-size="7.49" fill="#1c1c1c" text-anchor="start" stroke="#1c1c1c" stroke-width="0.18" textLength="7.06" lengthAdjust="spacingAndGlyphs" >#2</text>
<rect x="112.00" y="271.40" width="3.80" height="3.80" fill="#2e6a4c" />
<text x="119.22" y="275.67" font-size="7.49" fill="#1c1c1c" text-anchor="start" stroke="#1c1c1c" stroke-width="0.18" textLength="7.05" lengthAdjust="spacingAndGlyphs" >#1</text>
<rect x="112.00" y="282.10" width="3.80" height="3.80" fill="#6fb04a" />
<text x="119.22" y="286.41" font-size="7.49" fill="#1c1c1c" text-anchor="start" stroke="#1c1c1c" stroke-width="0.18" textLength="7.06" lengthAdjust="spacingAndGlyphs" >#2</text>
<rect x="112.00" y="292.20" width="3.80" height="3.80" fill="#233e85" />
<text x="119.22" y="296.47" font-size="7.49" fill="#1c1c1c" text-anchor="start" stroke="#1c1c1c" stroke-width="0.18" textLength="7.05" lengthAdjust="spacingAndGlyphs" >#1</text>
<rect x="112.00" y="302.90" width="3.80" height="3.80" fill="#6cb2e6" />
<text x="119.22" y="307.21" font-size="7.49" fill="#1c1c1c" text-anchor="start" stroke="#1c1c1c" stroke-width="0.18" textLength="7.06" lengthAdjust="spacingAndGlyphs" >#2</text>
<line x1="130.10" y1="250.40" x2="130.10" y2="265.40" stroke="#333" stroke-width="1"/>
<text x="133.15" y="260.48" font-size="7.49" fill="#1c1c1c" text-anchor="start" stroke="#1c1c1c" stroke-width="0.18" textLength="28.99" lengthAdjust="spacingAndGlyphs" >shE2A-N</text>
<line x1="130.10" y1="271.10" x2="130.10" y2="286.20" stroke="#333" stroke-width="1"/>
<text x="133.16" y="281.23" font-size="7.49" fill="#1c1c1c" text-anchor="start" stroke="#1c1c1c" stroke-width="0.18" textLength="32.75" lengthAdjust="spacingAndGlyphs" >shPBX1-C</text>
<line x1="130.10" y1="291.90" x2="130.10" y2="307.00" stroke="#333" stroke-width="1"/>
<text x="133.16" y="302.03" font-size="7.49" fill="#1c1c1c" text-anchor="start" stroke="#1c1c1c" stroke-width="0.18" textLength="31.33" lengthAdjust="spacingAndGlyphs" >shRUNX1</text>
<text x="175.77" y="235.53" font-size="12.30" fill="#000" text-anchor="start" stroke="#000" stroke-width="0.3" font-weight="bold" textLength="8.37" lengthAdjust="spacingAndGlyphs" >D</text>
<text x="247.95" y="264.30" font-size="8.13" fill="#141414" text-anchor="start" stroke="#141414" stroke-width="0.18" textLength="13.31" lengthAdjust="spacingAndGlyphs" >697</text>
<line x1="227.00" y1="268.80" x2="283.00" y2="268.80" stroke="#444" stroke-width="1.3"/>
<text x="221.63" y="279.21" font-size="8.56" fill="#141414" text-anchor="start" stroke="#141414" stroke-width="0.18" textLength="32.49" lengthAdjust="spacingAndGlyphs" >shE2A-N</text>
<text x="258.45" y="279.21" font-size="8.56" fill="#141414" text-anchor="start" stroke="#141414" stroke-width="0.18" textLength="34.77" lengthAdjust="spacingAndGlyphs" >shPBX1-C</text>
<line x1="226.50" y1="283.80" x2="249.00" y2="283.80" stroke="#444" stroke-width="1.3"/>
<line x1="257.70" y1="283.80" x2="279.80" y2="283.80" stroke="#444" stroke-width="1.3"/>
<text x="224.20" y="285.30" font-size="7.20" fill="#141414" text-anchor="end" stroke="#141414" stroke-width="0.18" transform="rotate(-45 224.20 285.30)" >shScr</text>
<text x="231.80" y="291.20" font-size="7.60" fill="#141414" text-anchor="end" stroke="#141414" stroke-width="0.18" transform="rotate(-45 231.80 291.20)" >#1</text>
<text x="247.70" y="291.20" font-size="7.60" fill="#141414" text-anchor="end" stroke="#141414" stroke-width="0.18" transform="rotate(-45 247.70 291.20)" >#2</text>
<text x="262.20" y="291.20" font-size="7.60" fill="#141414" text-anchor="end" stroke="#141414" stroke-width="0.18" transform="rotate(-45 262.20 291.20)" >#1</text>
<text x="278.50" y="291.20" font-size="7.60" fill="#141414" text-anchor="end" stroke="#141414" stroke-width="0.18" transform="rotate(-45 278.50 291.20)" >#2</text>
<linearGradient id="d1g" x1="0" y1="0" x2="1" y2="0"><stop offset="0" stop-color="#c0c0c0"/><stop offset="1" stop-color="#c8c8c8"/></linearGradient>
<rect x="204.8" y="301.2" width="76.5" height="27.6" fill="url(#d1g)"/>
<clipPath id="d1c"><rect x="204.8" y="301.2" width="76.5" height="27.6"/></clipPath>
<g clip-path="url(#d1c)"><g filter="url(#blur1)">
<rect x="209.60" y="306.10" width="10.00" height="4.20" rx="2.10" fill="#0e0e0e"/>
<rect x="210.60" y="313.20" width="8.00" height="2.40" rx="1.20" fill="#8a8a8a"/>
<rect x="210.10" y="321.00" width="9.00" height="2.80" rx="1.40" fill="#555"/>
<rect x="239.50" y="308.40" width="7.60" height="2.40" rx="1.20" fill="#adadad"/>
<rect x="268.00" y="308.10" width="9.20" height="3.00" rx="1.50" fill="#8c8c8c"/>
<rect x="252.45" y="322.30" width="9.50" height="2.80" rx="1.40" fill="#a6a6a6"/>
<rect x="267.95" y="322.40" width="8.50" height="2.60" rx="1.30" fill="#acacac"/>
</g></g>
<linearGradient id="d2g" x1="0" y1="0" x2="1" y2="0"><stop offset="0" stop-color="#bdbdbd"/><stop offset="1" stop-color="#c3c3c3"/></linearGradient>
<rect x="204.8" y="331.3" width="76.5" height="15.0" fill="url(#d2g)"/>
<clipPath id="d2c"><rect x="204.8" y="331.3" width="76.5" height="15.0"/></clipPath>
<g clip-path="url(#d2c)"><g filter="url(#blur1)">
<rect x="210.70" y="338.30" width="10.00" height="3.40" rx="1.70" fill="#111"/>
<rect x="226.10" y="339.40" width="7.00" height="1.60" rx="0.80" fill="#a4a4a4"/>
<rect x="240.20" y="338.60" width="8.00" height="2.80" rx="1.40" fill="#3a3a3a"/>
<rect x="254.40" y="339.10" width="9.20" height="2.00" rx="1.00" fill="#9c9c9c"/>
<rect x="268.80" y="339.50" width="6.00" height="1.40" rx="0.70" fill="#b4b4b4"/>
</g></g>
<linearGradient id="d3g" x1="0" y1="0" x2="1" y2="0"><stop offset="0" stop-color="#a3a3a3"/><stop offset="1" stop-color="#ababab"/></linearGradient>
<rect x="204.8" y="348.8" width="76.5" height="20.0" fill="url(#d3g)"/>
<clipPath id="d3c"><rect x="204.8" y="348.8" width="76.5" height="20.0"/></clipPath>
<g clip-path="url(#d3c)"><g filter="url(#blur1)">
<rect x="209.75" y="355.80" width="17.50" height="6.00" rx="3.00" fill="#1e1e1e"/>
<rect x="227.00" y="356.90" width="11.00" height="5.00" rx="2.50" fill="#252525"/>
<rect x="238.75" y="357.10" width="11.50" height="5.00" rx="2.50" fill="#262626"/>
<rect x="250.25" y="356.10" width="15.50" height="5.80" rx="2.90" fill="#202020"/>
<rect x="266.00" y="356.20" width="14.00" height="5.60" rx="2.80" fill="#222"/>
</g></g>
<text x="179.11" y="319.76" font-size="7.92" fill="#141414" text-anchor="start" stroke="#141414" stroke-width="0.18" textLength="14.56" lengthAdjust="spacingAndGlyphs" >E2A</text>
<text x="193.86" y="316.69" font-size="5.99" fill="#141414" text-anchor="start" stroke="#141414" stroke-width="0.18" textLength="7.59" lengthAdjust="spacingAndGlyphs" >N2</text>
<text x="175.74" y="342.96" font-size="8.45" fill="#141414" text-anchor="start" stroke="#141414" stroke-width="0.18" textLength="24.87" lengthAdjust="spacingAndGlyphs" >RUNX1</text>
<text x="177.59" y="363.09" font-size="8.45" fill="#141414" text-anchor="start" stroke="#141414" stroke-width="0.18" textLength="24.37" lengthAdjust="spacingAndGlyphs" >β-actin</text>
<line x1="285.00" y1="311.00" x2="287.30" y2="311.00" stroke="#111" stroke-width="1"/>
<path d="M282.50,311.00 L285.70,309.10 L285.70,312.90 Z" fill="#111"/>
<text x="290.60" y="312.76" font-size="8.03" fill="#141414" text-anchor="start" stroke="#141414" stroke-width="0.18" textLength="12.67" lengthAdjust="spacingAndGlyphs" >EP1</text>
<line x1="285.00" y1="324.80" x2="287.30" y2="324.80" stroke="#111" stroke-width="1"/>
<path d="M282.50,324.80 L285.70,322.90 L285.70,326.70 Z" fill="#111"/>
<text x="290.53" y="326.80" font-size="8.03" fill="#141414" text-anchor="start" stroke="#141414" stroke-width="0.18" textLength="14.14" lengthAdjust="spacingAndGlyphs" >E2A</text>
<text x="314.59" y="235.53" font-size="12.30" fill="#000" text-anchor="start" stroke="#000" stroke-width="0.3" font-weight="bold" textLength="6.55" lengthAdjust="spacingAndGlyphs" >E</text>
<line x1="338.40" y1="267.80" x2="338.40" y2="372.80" stroke="#222" stroke-width="1.3"/>
<line x1="337.80" y1="372.30" x2="400.60" y2="372.30" stroke="#222" stroke-width="1.3"/>
<line x1="335.40" y1="372.30" x2="338.40" y2="372.30" stroke="#333" stroke-width="1"/>
<text x="328.15" y="374.74" font-size="7.81" fill="#1c1c1c" text-anchor="start" stroke="#1c1c1c" stroke-width="0.18" textLength="4.19" lengthAdjust="spacingAndGlyphs" >0</text>
<line x1="335.40" y1="321.30" x2="338.40" y2="321.30" stroke="#333" stroke-width="1"/>
<text x="328.05" y="323.77" font-size="7.81" fill="#1c1c1c" text-anchor="start" stroke="#1c1c1c" stroke-width="0.18" textLength="4.40" lengthAdjust="spacingAndGlyphs" >2</text>
<line x1="335.40" y1="270.30" x2="338.40" y2="270.30" stroke="#333" stroke-width="1"/>
<text x="328.29" y="272.74" font-size="7.81" fill="#1c1c1c" text-anchor="start" stroke="#1c1c1c" stroke-width="0.18" textLength="3.96" lengthAdjust="spacingAndGlyphs" >4</text>
<line x1="359.15" y1="346.55" x2="359.15" y2="346.80" stroke="#333" stroke-width="0.9"/>
<line x1="356.90" y1="346.55" x2="361.40" y2="346.55" stroke="#333" stroke-width="0.9"/>
<rect x="354.90" y="346.80" width="8.50" height="25.50" fill="#542670" />
<line x1="369.50" y1="319.26" x2="369.50" y2="321.30" stroke="#333" stroke-width="0.9"/>
<line x1="367.25" y1="319.26" x2="371.75" y2="319.26" stroke="#333" stroke-width="0.9"/>
<rect x="365.25" y="321.30" width="8.50" height="51.00" fill="#ad7029" />
<line x1="379.85" y1="296.56" x2="379.85" y2="297.07" stroke="#333" stroke-width="0.9"/>
<line x1="377.60" y1="296.56" x2="382.10" y2="296.56" stroke="#333" stroke-width="0.9"/>
<rect x="375.60" y="297.07" width="8.50" height="75.23" fill="#a60f2d" />
<line x1="354.90" y1="288.20" x2="384.10" y2="288.20" stroke="#444" stroke-width="1.1"/>
<text x="369.70" y="287.60" font-size="7.60" fill="#2a2a2a" text-anchor="middle" stroke="#2a2a2a" stroke-width="0.18" >***</text>
<line x1="354.90" y1="315.50" x2="373.80" y2="315.50" stroke="#444" stroke-width="1.1"/>
<text x="364.30" y="314.90" font-size="7.60" fill="#2a2a2a" text-anchor="middle" stroke="#2a2a2a" stroke-width="0.18" >**</text>
<text x="356.73" y="381.85" font-size="8.13" fill="#141414" text-anchor="start" stroke="#141414" stroke-width="0.18" textLength="25.29" lengthAdjust="spacingAndGlyphs" >RUNX1</text>
<text x="322.61" y="364.17" font-size="10.27" fill="#383838" text-anchor="start" stroke="#383838" stroke-width="0.18" textLength="88.89" lengthAdjust="spacingAndGlyphs" transform="rotate(-90 322.61 364.17)" >Relative mRNA expression</text>
<rect x="321.00" y="389.10" width="3.80" height="3.80" fill="#542670" />
<text x="328.20" y="393.32" font-size="7.92" fill="#1c1c1c" text-anchor="start" stroke="#1c1c1c" stroke-width="0.18" textLength="11.71" lengthAdjust="spacingAndGlyphs" >697</text>
<rect x="349.70" y="389.10" width="3.80" height="3.80" fill="#ad7029" />
<text x="356.75" y="393.47" font-size="7.92" fill="#1c1c1c" text-anchor="start" stroke="#1c1c1c" stroke-width="0.18" textLength="22.18" lengthAdjust="spacingAndGlyphs" >E2A-hf</text>
<rect x="389.00" y="389.10" width="3.80" height="3.80" fill="#a60f2d" />
<text x="395.76" y="393.47" font-size="7.92" fill="#1c1c1c" text-anchor="start" stroke="#1c1c1c" stroke-width="0.18" textLength="21.77" lengthAdjust="spacingAndGlyphs" >EP1-hf</text>
<text x="415.77" y="235.32" font-size="11.98" fill="#000" text-anchor="start" stroke="#000" stroke-width="0.3" font-weight="bold" textLength="6.14" lengthAdjust="spacingAndGlyphs" >F</text>
<text x="454.33" y="306.34" font-size="8.24" fill="#141414" text-anchor="start" stroke="#141414" stroke-width="0.18" textLength="12.99" lengthAdjust="spacingAndGlyphs" transform="rotate(-90 454.33 306.34)" >697</text>
<text x="468.19" y="306.60" font-size="8.24" fill="#141414" text-anchor="start" stroke="#141414" stroke-width="0.18" textLength="24.13" lengthAdjust="spacingAndGlyphs" transform="rotate(-90 468.19 306.60)" >E2A-hf</text>
<text x="482.49" y="306.58" font-size="8.24" fill="#141414" text-anchor="start" stroke="#141414" stroke-width="0.18" textLength="23.20" lengthAdjust="spacingAndGlyphs" transform="rotate(-90 482.49 306.58)" >EP1-hf</text>
<rect x="445.0" y="310.0" width="42.8" height="21.8" fill="#c8c8c8"/>
<clipPath id="f1c"><rect x="445.0" y="310.0" width="42.8" height="21.8"/></clipPath>
<g clip-path="url(#f1c)"><g filter="url(#blur1)">
<rect x="447.00" y="314.70" width="10.00" height="3.00" rx="1.50" fill="#1e1e1e"/>
<rect x="460.50" y="315.00" width="9.40" height="2.60" rx="1.30" fill="#454545"/>
<rect x="473.40" y="312.60" width="12.40" height="4.40" rx="2.20" fill="#161616"/>
<rect x="447.25" y="319.00" width="9.50" height="1.80" rx="0.90" fill="#a2a2a2"/>
<rect x="460.70" y="319.10" width="9.00" height="1.60" rx="0.80" fill="#b0b0b0"/>
<rect x="474.60" y="319.10" width="10.00" height="1.60" rx="0.80" fill="#b4b4b4"/>
<rect x="447.25" y="325.00" width="9.50" height="2.40" rx="1.20" fill="#7a7a7a"/>
<rect x="460.40" y="324.30" width="9.60" height="3.20" rx="1.60" fill="#2e2e2e"/>
<rect x="475.10" y="325.20" width="9.00" height="1.80" rx="0.90" fill="#aaaaaa"/>
</g></g>
<rect x="445.0" y="334.2" width="42.8" height="16.0" fill="#c6c6c6"/>
<clipPath id="f2c"><rect x="445.0" y="334.2" width="42.8" height="16.0"/></clipPath>
<g clip-path="url(#f2c)"><g filter="url(#blur1)">
<rect x="460.95" y="340.20" width="8.50" height="2.00" rx="1.00" fill="#a6a6a6"/>
<rect x="473.60" y="339.20" width="12.40" height="3.60" rx="1.80" fill="#252525"/>
<rect x="473.90" y="343.60" width="11.80" height="2.40" rx="1.20" fill="#505050"/>
</g></g>
<rect x="445.0" y="351.3" width="42.8" height="16.7" fill="#c1c1c1"/>
<clipPath id="f3c"><rect x="445.0" y="351.3" width="42.8" height="16.7"/></clipPath>
<g clip-path="url(#f3c)"><g filter="url(#blur1)">
<rect x="444.60" y="356.00" width="14.00" height="6.00" rx="3.00" fill="#1c1c1c"/>
<rect x="458.75" y="356.50" width="13.50" height="5.40" rx="2.70" fill="#202020"/>
<rect x="472.50" y="356.00" width="15.00" height="6.00" rx="3.00" fill="#1a1a1a"/>
</g></g>
<text x="415.80" y="323.56" font-size="7.92" fill="#141414" text-anchor="start" stroke="#141414" stroke-width="0.18" textLength="14.87" lengthAdjust="spacingAndGlyphs" >E2A</text>
<text x="430.92" y="320.64" font-size="7.28" fill="#141414" text-anchor="start" stroke="#141414" stroke-width="0.18" textLength="9.82" lengthAdjust="spacingAndGlyphs" >N2</text>
<text x="415.34" y="343.86" font-size="8.45" fill="#141414" text-anchor="start" stroke="#141414" stroke-width="0.18" textLength="24.97" lengthAdjust="spacingAndGlyphs" >RUNX1</text>
<text x="416.99" y="362.34" font-size="8.45" fill="#141414" text-anchor="start" stroke="#141414" stroke-width="0.18" textLength="24.37" lengthAdjust="spacingAndGlyphs" >β-actin</text>
<line x1="492.90" y1="315.20" x2="495.00" y2="315.20" stroke="#111" stroke-width="1"/>
<path d="M490.40,315.20 L493.60,313.30 L493.60,317.10 Z" fill="#111"/>
<text x="498.29" y="317.56" font-size="8.03" fill="#141414" text-anchor="start" stroke="#141414" stroke-width="0.18" textLength="12.89" lengthAdjust="spacingAndGlyphs" >EP1</text>
<line x1="492.90" y1="326.20" x2="495.00" y2="326.20" stroke="#111" stroke-width="1"/>
<path d="M490.40,326.20 L493.60,324.30 L493.60,328.10 Z" fill="#111"/>
<text x="498.22" y="328.70" font-size="8.03" fill="#141414" text-anchor="start" stroke="#141414" stroke-width="0.18" textLength="14.35" lengthAdjust="spacingAndGlyphs" >E2A</text>
<text x="6.99" y="419.91" font-size="12.10" fill="#000" text-anchor="start" stroke="#000" stroke-width="0.3" font-weight="bold" textLength="8.99" lengthAdjust="spacingAndGlyphs" >G</text>
<line x1="39.90" y1="427.50" x2="39.90" y2="551.00" stroke="#555" stroke-width="1.5"/>
<line x1="39.20" y1="550.60" x2="196.00" y2="550.60" stroke="#333" stroke-width="1.3"/>
<line x1="36.40" y1="550.40" x2="39.90" y2="550.40" stroke="#444" stroke-width="1"/>
<text x="29.75" y="552.92" font-size="8.35" fill="#1c1c1c" text-anchor="start" stroke="#1c1c1c" stroke-width="0.18" textLength="4.19" lengthAdjust="spacingAndGlyphs" >0</text>
<line x1="36.40" y1="510.50" x2="39.90" y2="510.50" stroke="#444" stroke-width="1"/>
<text x="25.65" y="513.02" font-size="8.35" fill="#1c1c1c" text-anchor="start" stroke="#1c1c1c" stroke-width="0.18" textLength="8.30" lengthAdjust="spacingAndGlyphs" >50</text>
<line x1="36.40" y1="470.60" x2="39.90" y2="470.60" stroke="#444" stroke-width="1"/>
<text x="20.97" y="473.12" font-size="8.35" fill="#1c1c1c" text-anchor="start" stroke="#1c1c1c" stroke-width="0.18" textLength="12.98" lengthAdjust="spacingAndGlyphs" >100</text>
<line x1="36.40" y1="430.70" x2="39.90" y2="430.70" stroke="#444" stroke-width="1"/>
<text x="20.97" y="433.22" font-size="8.35" fill="#1c1c1c" text-anchor="start" stroke="#1c1c1c" stroke-width="0.18" textLength="12.98" lengthAdjust="spacingAndGlyphs" >150</text>
<rect x="55.20" y="470.60" width="13.60" height="79.80" fill="#5a3b1b" />
<line x1="79.00" y1="503.32" x2="79.00" y2="519.52" stroke="#444" stroke-width="1.0"/>
<line x1="77.00" y1="503.32" x2="81.00" y2="503.32" stroke="#444" stroke-width="1.0"/>
<rect x="72.20" y="519.52" width="13.60" height="30.88" fill="#336a50" />
<line x1="96.00" y1="519.52" x2="96.00" y2="521.51" stroke="#444" stroke-width="1.0"/>
<line x1="94.00" y1="519.52" x2="98.00" y2="519.52" stroke="#444" stroke-width="1.0"/>
<rect x="89.20" y="521.51" width="13.60" height="28.89" fill="#e8b820" />
<rect x="133.00" y="470.60" width="13.40" height="79.80" fill="#5a3b1b" />
<line x1="156.90" y1="487.04" x2="156.90" y2="509.46" stroke="#444" stroke-width="1.0"/>
<line x1="154.90" y1="487.04" x2="158.90" y2="487.04" stroke="#444" stroke-width="1.0"/>
<rect x="150.20" y="509.46" width="13.40" height="40.94" fill="#336a50" />
<line x1="174.10" y1="475.63" x2="174.10" y2="493.98" stroke="#444" stroke-width="1.0"/>
<line x1="172.10" y1="475.63" x2="176.10" y2="475.63" stroke="#444" stroke-width="1.0"/>
<rect x="167.40" y="493.98" width="13.40" height="56.42" fill="#e8b820" />
<text x="79.00" y="502.70" font-size="7.60" fill="#1c1c1c" text-anchor="middle" stroke="#1c1c1c" stroke-width="0.18" >**</text>
<text x="96.00" y="518.70" font-size="7.60" fill="#1c1c1c" text-anchor="middle" stroke="#1c1c1c" stroke-width="0.18" >***</text>
<text x="156.80" y="486.40" font-size="7.60" fill="#1c1c1c" text-anchor="middle" stroke="#1c1c1c" stroke-width="0.18" >**</text>
<text x="174.00" y="474.20" font-size="7.60" fill="#1c1c1c" text-anchor="middle" stroke="#1c1c1c" stroke-width="0.18" >**</text>
<text x="72.39" y="560.07" font-size="7.92" fill="#141414" text-anchor="start" stroke="#141414" stroke-width="0.18" textLength="12.59" lengthAdjust="spacingAndGlyphs" >IGR</text>
<text x="151.64" y="560.07" font-size="7.92" fill="#141414" text-anchor="start" stroke="#141414" stroke-width="0.18" textLength="10.21" lengthAdjust="spacingAndGlyphs" >EN</text>
<text x="96.26" y="573.77" font-size="9.42" fill="#1c1c1c" text-anchor="start" stroke="#1c1c1c" stroke-width="0.18" textLength="42.63" lengthAdjust="spacingAndGlyphs" >RUNX1 locus</text>
<text x="14.98" y="527.25" font-size="9.20" fill="#383838" text-anchor="start" stroke="#383838" stroke-width="0.18" textLength="76.13" lengthAdjust="spacingAndGlyphs" transform="rotate(-90 14.98 527.25)" >Relative occupancy (%)</text>
<rect x="50.40" y="436.50" width="3.90" height="3.70" fill="#5a3b1b" />
<rect x="50.40" y="446.30" width="3.90" height="3.70" fill="#336a50" />
<rect x="50.40" y="455.60" width="3.90" height="3.70" fill="#e8b820" />
<text x="57.67" y="440.70" font-size="7.70" fill="#1c1c1c" text-anchor="start" stroke="#1c1c1c" stroke-width="0.18" textLength="17.09" lengthAdjust="spacingAndGlyphs" >shScr</text>
<text x="57.82" y="450.30" font-size="7.70" fill="#1c1c1c" text-anchor="start" stroke="#1c1c1c" stroke-width="0.18" textLength="7.15" lengthAdjust="spacingAndGlyphs" >#1</text>
<text x="57.81" y="460.34" font-size="7.70" fill="#1c1c1c" text-anchor="start" stroke="#1c1c1c" stroke-width="0.18" textLength="7.80" lengthAdjust="spacingAndGlyphs" >#2</text>
<line x1="68.75" y1="444.40" x2="68.75" y2="461.00" stroke="#333" stroke-width="1.1"/>
<text x="72.06" y="455.15" font-size="7.70" fill="#1c1c1c" text-anchor="start" stroke="#1c1c1c" stroke-width="0.18" textLength="31.44" lengthAdjust="spacingAndGlyphs" >shRUNX1</text>
<text x="210.63" y="419.71" font-size="11.67" fill="#000" text-anchor="start" stroke="#000" stroke-width="0.3" font-weight="bold" textLength="8.73" lengthAdjust="spacingAndGlyphs" >H</text>
<line x1="241.30" y1="428.20" x2="241.30" y2="551.00" stroke="#222" stroke-width="1.3"/>
<line x1="240.70" y1="550.50" x2="400.80" y2="550.50" stroke="#222" stroke-width="1.3"/>
<line x1="238.30" y1="550.50" x2="241.30" y2="550.50" stroke="#333" stroke-width="1"/>
<text x="231.55" y="552.95" font-size="7.70" fill="#1c1c1c" text-anchor="start" stroke="#1c1c1c" stroke-width="0.18" textLength="4.19" lengthAdjust="spacingAndGlyphs" >0</text>
<line x1="238.30" y1="526.50" x2="241.30" y2="526.50" stroke="#333" stroke-width="1"/>
<text x="224.22" y="528.95" font-size="7.70" fill="#1c1c1c" text-anchor="start" stroke="#1c1c1c" stroke-width="0.18" textLength="11.63" lengthAdjust="spacingAndGlyphs" >0.1</text>
<line x1="238.30" y1="502.50" x2="241.30" y2="502.50" stroke="#333" stroke-width="1"/>
<text x="224.21" y="504.95" font-size="7.70" fill="#1c1c1c" text-anchor="start" stroke="#1c1c1c" stroke-width="0.18" textLength="11.66" lengthAdjust="spacingAndGlyphs" >0.2</text>
<line x1="238.30" y1="478.50" x2="241.30" y2="478.50" stroke="#333" stroke-width="1"/>
<text x="224.22" y="480.95" font-size="7.70" fill="#1c1c1c" text-anchor="start" stroke="#1c1c1c" stroke-width="0.18" textLength="11.59" lengthAdjust="spacingAndGlyphs" >0.3</text>
<line x1="238.30" y1="454.50" x2="241.30" y2="454.50" stroke="#333" stroke-width="1"/>
<text x="224.22" y="456.95" font-size="7.70" fill="#1c1c1c" text-anchor="start" stroke="#1c1c1c" stroke-width="0.18" textLength="11.46" lengthAdjust="spacingAndGlyphs" >0.4</text>
<line x1="238.30" y1="430.50" x2="241.30" y2="430.50" stroke="#333" stroke-width="1"/>
<text x="224.22" y="432.95" font-size="7.70" fill="#1c1c1c" text-anchor="start" stroke="#1c1c1c" stroke-width="0.18" textLength="11.57" lengthAdjust="spacingAndGlyphs" >0.5</text>
<line x1="256.35" y1="548.34" x2="256.35" y2="549.06" stroke="#333" stroke-width="1.0"/>
<line x1="254.35" y1="548.34" x2="258.35" y2="548.34" stroke="#333" stroke-width="1.0"/>
<rect x="251.60" y="549.06" width="9.50" height="1.44" fill="#1f3c84" />
<line x1="268.05" y1="546.66" x2="268.05" y2="547.62" stroke="#333" stroke-width="1.0"/>
<line x1="266.05" y1="546.66" x2="270.05" y2="546.66" stroke="#333" stroke-width="1.0"/>
<rect x="263.30" y="547.62" width="9.50" height="2.88" fill="#a9bf84" />
<line x1="279.75" y1="542.58" x2="279.75" y2="544.98" stroke="#333" stroke-width="1.0"/>
<line x1="277.75" y1="542.58" x2="281.75" y2="542.58" stroke="#333" stroke-width="1.0"/>
<rect x="275.00" y="544.98" width="9.50" height="5.52" fill="#dc8a1a" />
<line x1="309.40" y1="548.82" x2="309.40" y2="549.54" stroke="#333" stroke-width="1.0"/>
<line x1="307.40" y1="548.82" x2="311.40" y2="548.82" stroke="#333" stroke-width="1.0"/>
<rect x="304.60" y="549.54" width="9.60" height="0.96" fill="#1f3c84" />
<line x1="321.30" y1="496.62" x2="321.30" y2="512.70" stroke="#333" stroke-width="1.0"/>
<line x1="319.30" y1="496.62" x2="323.30" y2="496.62" stroke="#333" stroke-width="1.0"/>
<rect x="316.50" y="512.70" width="9.60" height="37.80" fill="#a9bf84" />
<line x1="333.20" y1="460.98" x2="333.20" y2="472.98" stroke="#333" stroke-width="1.0"/>
<line x1="331.20" y1="460.98" x2="335.20" y2="460.98" stroke="#333" stroke-width="1.0"/>
<rect x="328.40" y="472.98" width="9.60" height="77.52" fill="#dc8a1a" />
<line x1="362.75" y1="548.82" x2="362.75" y2="549.54" stroke="#333" stroke-width="1.0"/>
<line x1="360.75" y1="548.82" x2="364.75" y2="548.82" stroke="#333" stroke-width="1.0"/>
<rect x="358.00" y="549.54" width="9.50" height="0.96" fill="#1f3c84" />
<line x1="374.55" y1="486.66" x2="374.55" y2="513.30" stroke="#333" stroke-width="1.0"/>
<line x1="372.55" y1="486.66" x2="376.55" y2="486.66" stroke="#333" stroke-width="1.0"/>
<rect x="369.80" y="513.30" width="9.50" height="37.20" fill="#a9bf84" />
<line x1="386.35" y1="465.78" x2="386.35" y2="477.30" stroke="#333" stroke-width="1.0"/>
<line x1="384.35" y1="465.78" x2="388.35" y2="465.78" stroke="#333" stroke-width="1.0"/>
<rect x="381.60" y="477.30" width="9.50" height="73.20" fill="#dc8a1a" />
<text x="251.59" y="560.42" font-size="7.92" fill="#141414" text-anchor="start" stroke="#141414" stroke-width="0.18" textLength="32.68" lengthAdjust="spacingAndGlyphs" >NCAPD2</text>
<text x="300.42" y="560.14" font-size="7.92" fill="#141414" text-anchor="start" stroke="#141414" stroke-width="0.18" textLength="40.66" lengthAdjust="spacingAndGlyphs" >RUNX1_EN</text>
<text x="352.83" y="560.18" font-size="7.92" fill="#141414" text-anchor="start" stroke="#141414" stroke-width="0.18" textLength="42.86" lengthAdjust="spacingAndGlyphs" >RUNX1_IGR</text>
<text x="218.18" y="501.21" font-size="9.20" fill="#383838" text-anchor="start" stroke="#383838" stroke-width="0.18" textLength="25.12" lengthAdjust="spacingAndGlyphs" transform="rotate(-90 218.18 501.21)" >% input</text>
<rect x="252.20" y="436.60" width="3.90" height="3.60" fill="#1f3c84" />
<rect x="252.20" y="446.40" width="3.90" height="3.60" fill="#a9bf84" />
<rect x="252.20" y="456.50" width="3.90" height="3.60" fill="#dc8a1a" />
<text x="259.04" y="440.28" font-size="7.92" fill="#1c1c1c" text-anchor="start" stroke="#1c1c1c" stroke-width="0.18" textLength="27.51" lengthAdjust="spacingAndGlyphs" >Parental</text>
<text x="259.08" y="450.27" font-size="7.92" fill="#1c1c1c" text-anchor="start" stroke="#1c1c1c" stroke-width="0.18" textLength="20.95" lengthAdjust="spacingAndGlyphs" >EP1-hf</text>
<text x="259.06" y="460.03" font-size="7.92" fill="#1c1c1c" text-anchor="start" stroke="#1c1c1c" stroke-width="0.18" textLength="45.57" lengthAdjust="spacingAndGlyphs" >EP1-Y305E-hf</text>
<rect x="0.6" y="0.6" width="518.8" height="581.8" fill="none" stroke="#000" stroke-width="1.3"/>
</svg></div></body></html>
